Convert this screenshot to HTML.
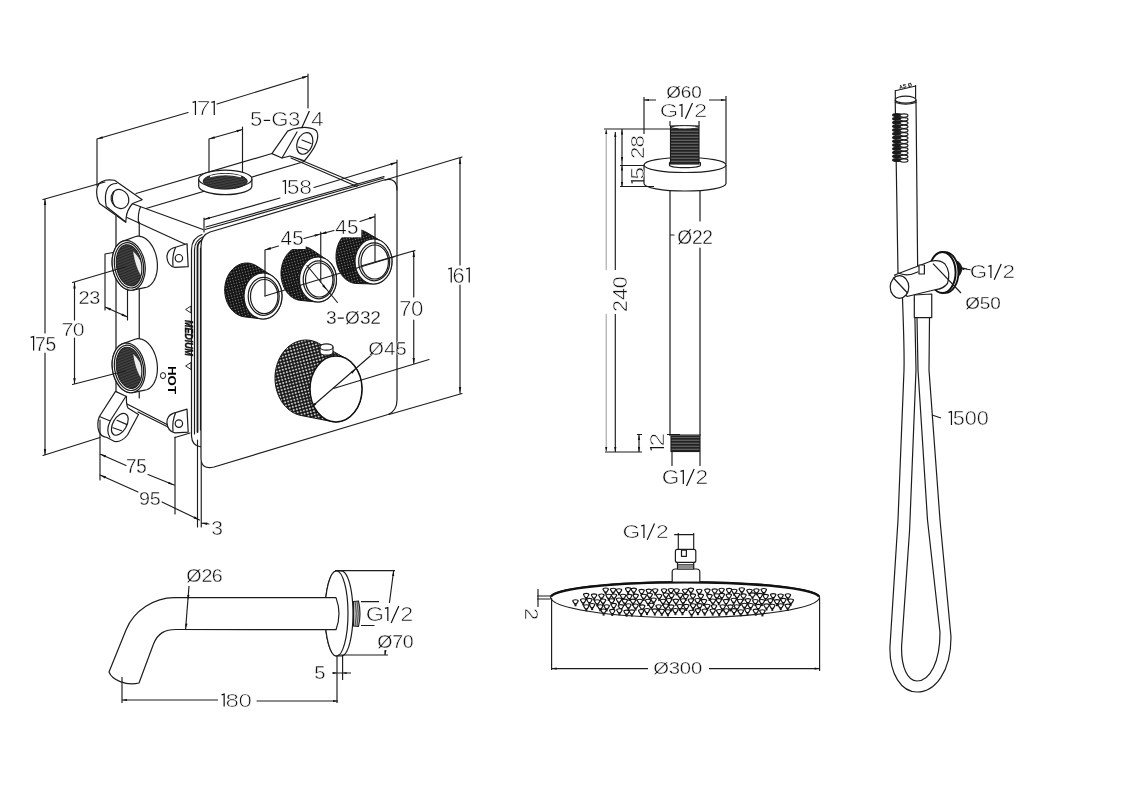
<!DOCTYPE html>
<html><head><meta charset="utf-8"><style>
html,body{margin:0;padding:0;background:#fff;overflow:hidden;}
svg{display:block;filter:grayscale(1);}
text{font-family:"Liberation Sans",sans-serif;}
</style></head><body>
<svg width="1131" height="800" viewBox="0 0 1131 800">
<defs>
<pattern id="knurl" width="3.2" height="3.2" patternUnits="userSpaceOnUse" patternTransform="rotate(-15)">
<rect width="3.2" height="3.2" fill="#121212"/><circle cx="1.6" cy="1.6" r="1.05" fill="#c4c4c4"/>
</pattern>
<pattern id="knurl2" width="2.8" height="2.8" patternUnits="userSpaceOnUse" patternTransform="rotate(-15)">
<rect width="2.8" height="2.8" fill="#111"/><circle cx="1.4" cy="1.4" r="0.65" fill="#8c8c8c"/>
</pattern>
<pattern id="thread" width="4" height="2.6" patternUnits="userSpaceOnUse" patternTransform="rotate(-12)">
<rect width="4" height="2.6" fill="#262626"/><rect y="1.5" width="4" height="0.6" fill="#6a6a6a"/>
</pattern>
<pattern id="hthread" width="4" height="3" patternUnits="userSpaceOnUse">
<rect width="4" height="3" fill="#222"/><rect y="1.8" width="4" height="0.8" fill="#858585"/>
</pattern>
</defs>
<rect width="1131" height="800" fill="#fff"/>

<g fill="none" stroke="#1c1c1c" stroke-width="1.2" stroke-linejoin="round" stroke-linecap="round">
<path d="M116,216 L116,420 M139.25,222 L139.25,398"/>
<path d="M136,193.5 L272,153.5 M146,208.5 L304.5,161.5"/>
<path d="M132.5,203.8 L203,229.5 M127,217.5 L187,245 M290,155.5 L358,184 M291,158 L357,186.5"/>
<path d="M127,404 L170,426 M138,412 L169,427.5 M175,437.5 L190,433"/>
<path d="M191.5,436 L191.5,250 Q191.5,238 202,234.5 M194.5,434 L194.5,250 Q194.5,240 204,236.5 M200.5,430 L200.5,248"/>
<path stroke-width="1.8" d="M197.5,432 L197.5,248 Q197.5,241 205,238.5"/>
<path d="M191.5,436 Q192,446 201,447"/>
</g>
<path fill="#fff" stroke="#1c1c1c" stroke-width="1.2" stroke-linejoin="round" stroke-linecap="round" d="M210,232 L384,180 Q397,177 397,190 L397,400 Q397,411 388,414.5 L214,467 Q201,470 201,458 L201,246 Q201,235 210,232 Z"/>
<path fill="none" stroke="#1c1c1c" stroke-width="1.2" stroke-linejoin="round" stroke-linecap="round" d="M206,227 L384,176.5 M205,229.5 L384,178"/>
<g fill="#fff" stroke="#1c1c1c" stroke-width="1.2" stroke-linejoin="round" stroke-linecap="round">
<path d="M102.5,181.4 Q106,179 114.5,180.25 L142.25,199.75 L132.5,203.5 Q127,210 126.2,217.5 L125.75,222.25 L99.5,203.5 Q96,197 96.8,189 Q98,183 102.5,181.4 Z"/>
<path fill="none" d="M106.25,206.5 L125.75,222 M106.25,206.5 Q104,195 107.5,188.5 Q110,183.5 116.75,183.5 M140.5,206.8 Q137.6,214 138.5,223"/>
<ellipse cx="120" cy="199" rx="8.6" ry="9.8" transform="rotate(-30 120 199)"/>
<path fill="none" d="M114,191.5 Q110.5,199.5 114.5,206"/>
<path d="M115.5,391.4 L126.5,396.5 Q126,404 128,408 L138.5,414.5 L127.5,435 Q121.5,442.5 114.5,441.5 L107,437.5 Q100,436.5 98.5,430 Q96.8,423 99.4,416.5 Z"/>
<path fill="none" d="M126,396.3 L110.25,420.8 M99.4,416.5 L110.25,421 M110.25,420.8 Q105.5,431 110,437.5"/>
<ellipse cx="119.8" cy="424.3" rx="6.8" ry="12" transform="rotate(30 119.8 424.3)"/>
<path fill="none" d="M117,420.25 L126.5,424.4 M112.9,427.75 L121.5,430.75"/>
<path d="M271.9,153.6 L287.6,131.1 L293,129 C303,126.5 313,127 316.5,131 C319.5,136 317,146 304.5,160.75 L290,156 L282,158 Z"/>
<ellipse cx="304.8" cy="143.4" rx="7.6" ry="11.2" transform="rotate(20 304.8 143.4)"/>
<path fill="none" d="M282,158 L297,132 M302,140 L311,143.5 M298.5,147 L307.5,150"/>
<path d="M173,248 L187,243.7 L188.2,266.7 L175,267.4 Q167.5,266 166.9,257 Q167,250.5 173,248 Z"/>
<path fill="none" d="M175.5,247.5 Q172,256 173,265.5"/>
<circle cx="178.9" cy="258.2" r="3.7"/>
<path d="M173,413.4 L187,409.1 L188.2,432.1 L175,432.79999999999995 Q167.5,431.4 166.9,422.4 Q167,415.9 173,413.4 Z"/>
<path fill="none" d="M175.5,412.9 Q172,421.4 173,430.9"/>
<circle cx="178.9" cy="423.6" r="3.7"/>
</g>
<path fill="#fff" stroke="#1c1c1c" stroke-width="1.2" stroke-linejoin="round" stroke-linecap="round" d="M112.14,261.47 L112.18,260.19 L112.27,258.93 L112.40,257.69 L112.58,256.46 L112.80,255.26 L113.07,254.09 L113.38,252.95 L113.73,251.84 L114.12,250.77 L114.55,249.74 L115.02,248.76 L115.53,247.82 L116.07,246.92 L116.65,246.08 L117.26,245.29 L117.91,244.56 L118.58,243.88 L119.28,243.26 L120.01,242.70 L120.76,242.21 L121.53,241.78 L122.32,241.41 L123.13,241.11 L135.07,236.73 L135.90,236.49 L136.73,236.32 L137.58,236.22 L138.44,236.19 L139.30,236.24 L140.17,236.35 L141.04,236.54 L141.91,236.79 L142.77,237.11 L143.63,237.50 L144.48,237.96 L145.33,238.49 L146.16,239.07 L146.97,239.73 L147.77,240.44 L148.55,241.21 L149.31,242.04 L150.04,242.92 L150.75,243.86 L151.43,244.84 L152.09,245.88 L152.71,246.95 L153.30,248.07 L153.85,249.23 L154.37,250.42 L154.85,251.64 L155.30,252.89 L155.70,254.17 L156.06,255.46 L156.39,256.78 L156.66,258.11 L156.90,259.45 L157.09,260.80 L157.24,262.15 L157.34,263.50 L157.39,264.84 L157.40,266.18 L157.37,267.51 L157.29,268.82 L157.16,270.12 L156.99,271.39 L156.78,272.63 L156.52,273.85 L156.22,275.03 L155.87,276.18 L155.49,277.29 L155.06,278.36 L154.60,279.38 L154.09,280.35 L153.55,281.28 L152.98,282.15 L152.37,282.96 L151.73,283.72 L151.06,284.42 L150.37,285.06 L149.64,285.64 L148.90,286.14 L148.13,286.59 L147.34,286.96 L146.53,287.27 L145.70,287.51 L144.87,287.68 L132.61,290.09 L131.76,290.19 L130.91,290.22 L130.04,290.19 L129.18,290.08 L128.31,289.91 L127.44,289.67 L126.58,289.37 L125.72,288.99 L124.88,288.56 L124.04,288.06 L123.21,287.50 L122.40,286.88 L121.61,286.19 L120.83,285.46 L120.08,284.66 L119.35,283.82 L118.65,282.92 L117.97,281.98 L117.33,280.99 L116.71,279.95 L116.13,278.88 L115.58,277.77 L115.07,276.63 L114.60,275.46 L114.16,274.25 L113.77,273.03 L113.41,271.78 L113.10,270.52 L112.83,269.24 L112.60,267.95 L112.42,266.65 L112.28,265.35 L112.19,264.06 L112.14,262.76 Z"/>
<ellipse fill="#fff" stroke="#1c1c1c" stroke-width="1.2" stroke-linejoin="round" stroke-linecap="round" cx="128.7" cy="265.4" rx="16.3" ry="25" transform="rotate(-9 128.7 265.4)"/>
<ellipse fill="none" stroke="#1c1c1c" stroke-width="1.2" stroke-linejoin="round" stroke-linecap="round" cx="129.0" cy="265.4" rx="14.4" ry="22.8" transform="rotate(-9 128.7 265.4)"/>
<ellipse fill="url(#thread)" stroke="#1c1c1c" stroke-width="1" cx="129.1" cy="265.4" rx="12.6" ry="20.8" transform="rotate(-9 128.7 265.4)"/>
<clipPath id="pc0"><ellipse cx="129.1" cy="265.4" rx="11.9" ry="20.1" transform="rotate(-9 128.7 265.4)"/></clipPath>
<path clip-path="url(#pc0)" fill="#eeeeee" stroke="none" d="M133.2,251.39999999999998 Q145.7,263.4 140.7,275.4 Q134.7,264.4 133.2,251.39999999999998 Z"/>
<path fill="#fff" stroke="#1c1c1c" stroke-width="1.2" stroke-linejoin="round" stroke-linecap="round" d="M112.14,363.97 L112.18,362.69 L112.27,361.43 L112.40,360.19 L112.58,358.96 L112.80,357.76 L113.07,356.59 L113.38,355.45 L113.73,354.34 L114.12,353.27 L114.55,352.24 L115.02,351.26 L115.53,350.32 L116.07,349.42 L116.65,348.58 L117.26,347.79 L117.91,347.06 L118.58,346.38 L119.28,345.76 L120.01,345.20 L120.76,344.71 L121.53,344.28 L122.32,343.91 L123.13,343.61 L135.07,339.23 L135.90,338.99 L136.73,338.82 L137.58,338.72 L138.44,338.69 L139.30,338.74 L140.17,338.85 L141.04,339.04 L141.91,339.29 L142.77,339.61 L143.63,340.00 L144.48,340.46 L145.33,340.99 L146.16,341.57 L146.97,342.23 L147.77,342.94 L148.55,343.71 L149.31,344.54 L150.04,345.42 L150.75,346.36 L151.43,347.34 L152.09,348.38 L152.71,349.45 L153.30,350.57 L153.85,351.73 L154.37,352.92 L154.85,354.14 L155.30,355.39 L155.70,356.67 L156.06,357.96 L156.39,359.28 L156.66,360.61 L156.90,361.95 L157.09,363.30 L157.24,364.65 L157.34,366.00 L157.39,367.34 L157.40,368.68 L157.37,370.01 L157.29,371.32 L157.16,372.62 L156.99,373.89 L156.78,375.13 L156.52,376.35 L156.22,377.53 L155.87,378.68 L155.49,379.79 L155.06,380.86 L154.60,381.88 L154.09,382.85 L153.55,383.78 L152.98,384.65 L152.37,385.46 L151.73,386.22 L151.06,386.92 L150.37,387.56 L149.64,388.14 L148.90,388.64 L148.13,389.09 L147.34,389.46 L146.53,389.77 L145.70,390.01 L144.87,390.18 L132.61,392.59 L131.76,392.69 L130.91,392.72 L130.04,392.69 L129.18,392.58 L128.31,392.41 L127.44,392.17 L126.58,391.87 L125.72,391.49 L124.88,391.06 L124.04,390.56 L123.21,390.00 L122.40,389.38 L121.61,388.69 L120.83,387.96 L120.08,387.16 L119.35,386.32 L118.65,385.42 L117.97,384.48 L117.33,383.49 L116.71,382.45 L116.13,381.38 L115.58,380.27 L115.07,379.13 L114.60,377.96 L114.16,376.75 L113.77,375.53 L113.41,374.28 L113.10,373.02 L112.83,371.74 L112.60,370.45 L112.42,369.15 L112.28,367.85 L112.19,366.56 L112.14,365.26 Z"/>
<ellipse fill="#fff" stroke="#1c1c1c" stroke-width="1.2" stroke-linejoin="round" stroke-linecap="round" cx="128.7" cy="367.9" rx="16.3" ry="25" transform="rotate(-9 128.7 367.9)"/>
<ellipse fill="none" stroke="#1c1c1c" stroke-width="1.2" stroke-linejoin="round" stroke-linecap="round" cx="129.0" cy="367.9" rx="14.4" ry="22.8" transform="rotate(-9 128.7 367.9)"/>
<ellipse fill="url(#thread)" stroke="#1c1c1c" stroke-width="1" cx="129.1" cy="367.9" rx="12.6" ry="20.8" transform="rotate(-9 128.7 367.9)"/>
<clipPath id="pc102"><ellipse cx="129.1" cy="367.9" rx="11.9" ry="20.1" transform="rotate(-9 128.7 367.9)"/></clipPath>
<path clip-path="url(#pc102)" fill="#eeeeee" stroke="none" d="M133.2,353.9 Q145.7,365.9 140.7,377.9 Q134.7,366.9 133.2,353.9 Z"/>
<path fill="#fff" stroke="#1c1c1c" stroke-width="1.2" stroke-linejoin="round" stroke-linecap="round" d="M198.7,179 L198.7,186 A26.6,8.6 0 0 0 251.9,186 L251.9,179 Z"/>
<ellipse fill="#fff" stroke="#1c1c1c" stroke-width="1.2" stroke-linejoin="round" stroke-linecap="round" cx="225.3" cy="179" rx="26.6" ry="8.8"/>
<ellipse fill="url(#thread)" stroke="#1c1c1c" stroke-width="1" cx="225.2" cy="181.3" rx="22" ry="7.8"/>
<path fill="none" stroke="#fff" stroke-width="1.3" d="M210,176.5 Q225,172.5 241,176.5"/>
<path fill="url(#knurl2)" stroke="#111" stroke-width="1" d="M224.70,290.00 L224.73,288.59 L224.82,287.18 L224.97,285.78 L225.18,284.39 L225.45,283.01 L225.78,281.66 L226.16,280.32 L226.60,279.02 L227.10,277.74 L227.65,276.50 L228.25,275.29 L228.90,274.13 L229.60,273.01 L230.35,271.93 L231.14,270.91 L231.98,269.94 L232.85,269.02 L233.77,268.16 L234.72,267.36 L235.70,266.62 L236.71,265.94 L237.75,265.33 L238.82,264.79 L239.90,264.32 L241.01,263.92 L242.13,263.59 L243.26,263.33 L244.40,263.15 L245.55,263.04 L246.70,263.00 L247.85,263.04 L249.00,263.15 L250.14,263.33 L251.27,263.59 L252.39,263.92 L253.50,264.32 L254.58,264.79 L255.65,265.33 L256.69,265.94 L271.63,275.51 L272.50,276.08 L273.35,276.71 L274.17,277.39 L274.96,278.13 L275.71,278.91 L276.44,279.74 L277.12,280.61 L277.77,281.53 L278.37,282.48 L278.93,283.47 L279.45,284.50 L279.93,285.56 L280.36,286.65 L280.74,287.76 L281.07,288.89 L281.35,290.05 L281.58,291.22 L281.77,292.40 L281.90,293.60 L281.97,294.80 L282.00,296.00 L281.97,297.20 L281.90,298.40 L281.77,299.60 L281.58,300.78 L281.35,301.95 L281.07,303.11 L280.74,304.24 L280.36,305.35 L279.93,306.44 L279.45,307.50 L278.93,308.53 L278.37,309.52 L277.77,310.47 L277.12,311.39 L276.44,312.26 L275.71,313.09 L274.96,313.87 L274.17,314.61 L273.35,315.29 L272.50,315.92 L271.63,316.49 L270.73,317.01 L269.81,317.47 L268.87,317.87 L267.92,318.22 L266.95,318.50 L265.97,318.72 L264.99,318.87 L263.99,318.97 L263.00,319.00 L262.01,318.97 L261.01,318.87 L244.40,316.85 L243.26,316.67 L242.13,316.41 L241.01,316.08 L239.90,315.68 L238.82,315.21 L237.75,314.67 L236.71,314.06 L235.70,313.38 L234.72,312.64 L233.77,311.84 L232.85,310.98 L231.98,310.06 L231.14,309.09 L230.35,308.07 L229.60,306.99 L228.90,305.87 L228.25,304.71 L227.65,303.50 L227.10,302.26 L226.60,300.98 L226.16,299.68 L225.78,298.34 L225.45,296.99 L225.18,295.61 L224.97,294.22 L224.82,292.82 L224.73,291.41 Z"/>
<ellipse fill="#fff" stroke="#1c1c1c" stroke-width="1.2" stroke-linejoin="round" stroke-linecap="round" cx="263" cy="296" rx="19" ry="23"/>
<ellipse fill="none" stroke="#1c1c1c" stroke-width="1.2" stroke-linejoin="round" stroke-linecap="round" cx="263.7" cy="296.3" rx="15.5" ry="19"/>
<ellipse fill="none" stroke="#1c1c1c" stroke-width="1.2" stroke-linejoin="round" stroke-linecap="round" cx="264.2" cy="296.5" rx="13.7" ry="17"/>
<path fill="url(#knurl2)" stroke="#111" stroke-width="1" d="M281.00,273.50 L281.03,272.09 L281.12,270.68 L281.26,269.28 L281.46,267.89 L281.72,266.51 L282.03,265.16 L282.39,263.82 L282.82,262.52 L283.29,261.24 L283.81,260.00 L284.39,258.79 L285.01,257.63 L285.68,256.51 L286.39,255.43 L287.15,254.41 L287.95,253.44 L288.78,252.52 L289.66,251.66 L290.56,250.86 L291.50,250.12 L292.47,249.44 L293.46,248.83 L294.47,248.29 L295.51,247.82 L296.56,247.42 L297.63,247.09 L298.71,246.83 L299.80,246.65 L300.90,246.54 L302.00,246.50 L303.10,246.54 L304.20,246.65 L305.29,246.83 L306.37,247.09 L307.44,247.42 L308.49,247.82 L309.53,248.29 L310.54,248.83 L311.53,249.44 L327.25,260.01 L328.08,260.63 L328.87,261.30 L329.64,262.01 L330.38,262.78 L331.08,263.59 L331.75,264.44 L332.38,265.34 L332.97,266.27 L333.52,267.25 L334.02,268.25 L334.48,269.29 L334.90,270.35 L335.27,271.44 L335.59,272.55 L335.87,273.68 L336.10,274.82 L336.27,275.98 L336.40,277.15 L336.47,278.32 L336.50,279.50 L336.47,280.68 L336.40,281.85 L336.27,283.02 L336.10,284.18 L335.87,285.32 L335.59,286.45 L335.27,287.56 L334.90,288.65 L334.48,289.71 L334.02,290.75 L333.52,291.75 L332.97,292.73 L332.38,293.66 L331.75,294.56 L331.08,295.41 L330.38,296.22 L329.64,296.99 L328.87,297.70 L328.08,298.37 L327.25,298.99 L326.40,299.55 L325.52,300.05 L324.63,300.51 L323.72,300.90 L322.79,301.23 L321.85,301.51 L320.89,301.72 L319.93,301.88 L318.97,301.97 L318.00,302.00 L317.03,301.97 L300.90,300.46 L299.80,300.35 L298.71,300.17 L297.63,299.91 L296.56,299.58 L295.51,299.18 L294.47,298.71 L293.46,298.17 L292.47,297.56 L291.50,296.88 L290.56,296.14 L289.66,295.34 L288.78,294.48 L287.95,293.56 L287.15,292.59 L286.39,291.57 L285.68,290.49 L285.01,289.37 L284.39,288.21 L283.81,287.00 L283.29,285.76 L282.82,284.48 L282.39,283.18 L282.03,281.84 L281.72,280.49 L281.46,279.11 L281.26,277.72 L281.12,276.32 L281.03,274.91 Z"/>
<ellipse fill="#fff" stroke="#1c1c1c" stroke-width="1.2" stroke-linejoin="round" stroke-linecap="round" cx="318" cy="279.5" rx="18.5" ry="22.5"/>
<ellipse fill="none" stroke="#1c1c1c" stroke-width="1.2" stroke-linejoin="round" stroke-linecap="round" cx="318.7" cy="279.8" rx="15.5" ry="19"/>
<ellipse fill="none" stroke="#1c1c1c" stroke-width="1.2" stroke-linejoin="round" stroke-linecap="round" cx="319.2" cy="280.0" rx="13.7" ry="17"/>
<path fill="url(#knurl2)" stroke="#111" stroke-width="1" d="M336.00,256.50 L336.03,255.09 L336.12,253.68 L336.26,252.28 L336.46,250.89 L336.72,249.51 L337.03,248.16 L337.39,246.82 L337.82,245.52 L338.29,244.24 L338.81,243.00 L339.39,241.79 L340.01,240.63 L340.68,239.51 L341.39,238.43 L342.15,237.41 L342.95,236.44 L343.78,235.52 L344.66,234.66 L345.56,233.86 L346.50,233.12 L347.47,232.44 L348.46,231.83 L349.47,231.29 L350.51,230.82 L351.56,230.42 L352.63,230.09 L353.71,229.83 L354.80,229.65 L355.90,229.54 L357.00,229.50 L358.10,229.54 L359.20,229.65 L360.29,229.83 L361.37,230.09 L362.44,230.42 L363.49,230.82 L364.53,231.29 L365.54,231.83 L381.90,241.45 L382.75,242.01 L383.58,242.63 L384.37,243.30 L385.14,244.01 L385.88,244.78 L386.58,245.59 L387.25,246.44 L387.88,247.34 L388.47,248.27 L389.02,249.25 L389.52,250.25 L389.98,251.29 L390.40,252.35 L390.77,253.44 L391.09,254.55 L391.37,255.68 L391.60,256.82 L391.77,257.98 L391.90,259.15 L391.97,260.32 L392.00,261.50 L391.97,262.68 L391.90,263.85 L391.77,265.02 L391.60,266.18 L391.37,267.32 L391.09,268.45 L390.77,269.56 L390.40,270.65 L389.98,271.71 L389.52,272.75 L389.02,273.75 L388.47,274.73 L387.88,275.66 L387.25,276.56 L386.58,277.41 L385.88,278.22 L385.14,278.99 L384.37,279.70 L383.58,280.37 L382.75,280.99 L381.90,281.55 L381.02,282.05 L380.13,282.51 L379.22,282.90 L378.29,283.23 L377.35,283.51 L376.39,283.72 L375.43,283.88 L374.47,283.97 L373.50,284.00 L357.00,283.50 L355.90,283.46 L354.80,283.35 L353.71,283.17 L352.63,282.91 L351.56,282.58 L350.51,282.18 L349.47,281.71 L348.46,281.17 L347.47,280.56 L346.50,279.88 L345.56,279.14 L344.66,278.34 L343.78,277.48 L342.95,276.56 L342.15,275.59 L341.39,274.57 L340.68,273.49 L340.01,272.37 L339.39,271.21 L338.81,270.00 L338.29,268.76 L337.82,267.48 L337.39,266.18 L337.03,264.84 L336.72,263.49 L336.46,262.11 L336.26,260.72 L336.12,259.32 L336.03,257.91 Z"/>
<ellipse fill="#fff" stroke="#1c1c1c" stroke-width="1.2" stroke-linejoin="round" stroke-linecap="round" cx="373.5" cy="261.5" rx="18.5" ry="22.5"/>
<ellipse fill="none" stroke="#1c1c1c" stroke-width="1.2" stroke-linejoin="round" stroke-linecap="round" cx="374.2" cy="261.8" rx="15.5" ry="19"/>
<ellipse fill="none" stroke="#1c1c1c" stroke-width="1.2" stroke-linejoin="round" stroke-linecap="round" cx="374.7" cy="262.0" rx="13.7" ry="17"/>
<path fill="url(#knurl)" stroke="#111" stroke-width="1" d="M275.00,378.00 L275.04,376.01 L275.17,374.03 L275.38,372.06 L275.68,370.10 L276.06,368.16 L276.52,366.26 L277.06,364.38 L277.68,362.54 L278.38,360.75 L279.15,359.00 L280.00,357.30 L280.92,355.66 L281.91,354.09 L282.96,352.57 L284.08,351.13 L285.26,349.76 L286.49,348.47 L287.78,347.26 L289.12,346.13 L290.50,345.09 L291.93,344.14 L293.39,343.29 L294.89,342.52 L296.42,341.86 L297.98,341.29 L299.55,340.83 L301.15,340.47 L302.76,340.21 L304.38,340.05 L306.00,340.00 L307.62,340.05 L309.24,340.21 L310.85,340.47 L312.45,340.83 L314.02,341.29 L315.58,341.86 L317.11,342.52 L318.61,343.29 L346.58,358.85 L347.80,359.60 L349.00,360.42 L350.16,361.32 L351.28,362.30 L352.36,363.35 L353.40,364.48 L354.38,365.67 L355.32,366.92 L356.21,368.23 L357.03,369.60 L357.81,371.03 L358.52,372.50 L359.17,374.02 L359.75,375.58 L360.27,377.17 L360.73,378.80 L361.11,380.46 L361.43,382.14 L361.68,383.84 L361.86,385.55 L361.96,387.27 L362.00,389.00 L361.96,390.73 L361.86,392.45 L361.68,394.16 L361.43,395.86 L361.11,397.54 L360.73,399.20 L360.27,400.83 L359.75,402.42 L359.17,403.98 L358.52,405.50 L357.81,406.97 L357.03,408.40 L356.21,409.77 L355.32,411.08 L354.38,412.33 L353.40,413.52 L352.36,414.65 L351.28,415.70 L350.16,416.68 L349.00,417.58 L347.80,418.40 L346.58,419.15 L345.32,419.81 L344.03,420.38 L342.73,420.88 L341.41,421.28 L340.07,421.59 L338.72,421.82 L337.36,421.95 L336.00,422.00 L334.64,421.95 L333.28,421.82 L331.93,421.59 L301.15,415.53 L299.55,415.17 L297.98,414.71 L296.42,414.14 L294.89,413.48 L293.39,412.71 L291.93,411.86 L290.50,410.91 L289.12,409.87 L287.78,408.74 L286.49,407.53 L285.26,406.24 L284.08,404.87 L282.96,403.43 L281.91,401.91 L280.92,400.34 L280.00,398.70 L279.15,397.00 L278.38,395.25 L277.68,393.46 L277.06,391.62 L276.52,389.74 L276.06,387.84 L275.68,385.90 L275.38,383.94 L275.17,381.97 L275.04,379.99 Z"/>
<ellipse fill="#fff" stroke="#111" stroke-width="1.5" cx="336" cy="389" rx="26" ry="33"/>
<path fill="#fff" stroke="#1c1c1c" stroke-width="1.2" stroke-linejoin="round" stroke-linecap="round" d="M320,347 L320,352 A6.5,3.2 0 0 0 333,352 L333,347 Z"/>
<ellipse fill="#fff" stroke="#1c1c1c" stroke-width="1.2" stroke-linejoin="round" stroke-linecap="round" cx="326.5" cy="347" rx="6.5" ry="3.2"/>
<g fill="#111" stroke="none">
<path d="M185.6,309.5 L191,306 L191,313 Z" fill="none" stroke="#111" stroke-width="0.9"/>
<path d="M185.6,366 L191,362.5 L191,369.5 Z" fill="none" stroke="#111" stroke-width="0.9"/>
<text font-size="10" font-weight="bold" font-style="italic" transform="translate(184.8,320) rotate(90)" textLength="36" lengthAdjust="spacingAndGlyphs" style="stroke:#111;stroke-width:0.4px">MEDIUM</text>
</g>
<text font-size="11" font-weight="bold" transform="translate(167.5,366) rotate(90)" textLength="28" lengthAdjust="spacingAndGlyphs" style="stroke:none">HOT</text>
<ellipse cx="163" cy="375.6" rx="2.6" ry="3" fill="none" stroke="#111" stroke-width="1"/>
<rect x="333" y="215" width="28.3" height="22.3" fill="#fff"/>
<rect x="278" y="227" width="27.6" height="22" fill="#fff"/>
<g fill="none" stroke="#1c1c1c" stroke-width="1.15" stroke-linecap="round">
<path d="M97,139 L188,112.5 M217,104 L308,76 M97,139 L97,186 M308,74 L308,108"/>
<path d="M209,139 L242.5,129.5 M209,139 L209,172 M242.5,127 L242.5,172"/>
<path d="M204,219.5 L280,198 M314,187.5 L396.5,162.5 M204,218 L204,232 M397,160 L397,190"/>
<path d="M460,158 L460,265 M460,285 L460,393 M462,157 L385,180 M462,393.5 L389,414.5"/>
<path d="M413.75,251 L413.75,297 M413.75,320 L413.75,364 M361,266 L415,250.5 M333.5,388.5 L429,359.5"/>
<path d="M265,250 L278.5,246 M304,238.5 L320.5,234 M265,250 L265,296 M320.75,232 L320.75,282"/>
<path d="M320.5,234 L334,230.5 M360,221.5 L375,216.5 M375,214 L375,262.5 M265,296 L395,256.5"/>
<path d="M307,265.5 L337.5,302.5 M311,407.5 L372.5,354"/>
<path d="M45,199 L45,333 M45,353 L45,455 M43,199.5 L105,182 M43,455.5 L100,437.5"/>
<path d="M74.5,282.5 L74.5,320 M74.5,338 L74.5,384 M72.5,282.5 L125,267 M72.5,384.5 L125,371"/>
<path d="M105,254 L105,310 M105,254 L113,252.5 M127.5,289 L127.5,320 M105,307 L127.5,317"/>
<path d="M100,454 L126,465.5 M148,474.5 L174,485 M100,420 L100,480 M175,437 L175,514"/>
<path d="M100,475 L138,492 M162,502 L199.5,520"/>
<path d="M197.5,440 L197.5,527 M201.25,462 L201.25,527 M201.25,523 L209,524"/>
</g>
<path d="M97.00,139.00 L102.43,136.17 L103.10,138.47 Z" fill="#111"/>
<path d="M308.00,76.00 L302.62,78.91 L301.91,76.62 Z" fill="#111"/>
<path d="M209.00,139.00 L214.44,136.21 L215.10,138.52 Z" fill="#111"/>
<path d="M242.50,129.50 L237.06,132.29 L236.40,129.98 Z" fill="#111"/>
<path d="M204.00,219.50 L209.45,216.71 L210.10,219.02 Z" fill="#111"/>
<path d="M396.50,162.50 L391.11,165.39 L390.41,163.09 Z" fill="#111"/>
<path d="M460.00,158.00 L461.20,164.00 L458.80,164.00 Z" fill="#111"/>
<path d="M460.00,393.00 L458.80,387.00 L461.20,387.00 Z" fill="#111"/>
<path d="M413.75,251.00 L414.95,257.00 L412.55,257.00 Z" fill="#111"/>
<path d="M413.75,364.00 L412.55,358.00 L414.95,358.00 Z" fill="#111"/>
<path d="M265.00,250.00 L270.38,247.09 L271.09,249.38 Z" fill="#111"/>
<path d="M320.50,234.00 L315.03,236.74 L314.40,234.42 Z" fill="#111"/>
<path d="M320.50,234.00 L326.01,231.33 L326.61,233.66 Z" fill="#111"/>
<path d="M375.00,216.50 L369.69,219.54 L368.93,217.26 Z" fill="#111"/>
<path d="M326.75,290.00 L322.05,286.08 L323.92,284.58 Z" fill="#111"/>
<path d="M311.00,407.50 L314.72,402.64 L316.30,404.45 Z" fill="#111"/>
<path d="M356.00,369.00 L352.22,373.81 L350.66,371.99 Z" fill="#111"/>
<path d="M45.00,199.00 L46.20,205.00 L43.80,205.00 Z" fill="#111"/>
<path d="M45.00,455.00 L43.80,449.00 L46.20,449.00 Z" fill="#111"/>
<path d="M74.50,282.50 L75.70,288.50 L73.30,288.50 Z" fill="#111"/>
<path d="M74.50,384.00 L73.30,378.00 L75.70,378.00 Z" fill="#111"/>
<path d="M105.00,307.00 L110.97,308.34 L110.00,310.53 Z" fill="#111"/>
<path d="M127.50,317.00 L121.53,315.66 L122.50,313.47 Z" fill="#111"/>
<path d="M100.00,454.00 L105.97,455.33 L105.00,457.52 Z" fill="#111"/>
<path d="M174.00,485.00 L167.99,483.87 L168.89,481.64 Z" fill="#111"/>
<path d="M100.00,475.00 L105.97,476.35 L104.99,478.55 Z" fill="#111"/>
<path d="M199.50,520.00 L193.57,518.49 L194.61,516.32 Z" fill="#111"/>
<path d="M201.25,523.00 L207.35,522.58 L207.05,524.96 Z" fill="#111"/>
<g transform="translate(192.00,115.00)"><path d="M0.60,-12.60 L3.45,-13.40 L3.45,0" fill="none" stroke="#111" stroke-width="1.2" stroke-linejoin="miter"/><text font-size="20.00" transform="translate(4.47,0) scale(1.266,1)" fill="#111" style="stroke:#fff;stroke-width:0.71px">7</text><path d="M19.40,-12.60 L22.25,-13.40 L22.25,0" fill="none" stroke="#111" stroke-width="1.2" stroke-linejoin="miter"/></g>
<g transform="translate(251.00,126.00)"><text font-size="20.00" transform="translate(-0.89,0) scale(1.111,1)" fill="#111" style="stroke:#fff;stroke-width:0.55px">5</text><path d="M12.74,-5.60 L19.14,-5.60" stroke="#111" stroke-width="1.2"/><text font-size="20.00" transform="translate(20.22,0) scale(1.111,1)" fill="#111" style="stroke:#fff;stroke-width:0.55px">G</text><text font-size="20.00" transform="translate(36.88,0) scale(1.111,1)" fill="#111" style="stroke:#fff;stroke-width:0.55px">3</text><path d="M50.71,1.96 L58.39,-15.12" stroke="#111" stroke-width="1.2"/><text font-size="20.00" transform="translate(60.34,0) scale(1.111,1)" fill="#111" style="stroke:#fff;stroke-width:0.55px">4</text></g>
<g transform="translate(282.00,194.00)"><path d="M0.60,-12.60 L3.45,-13.40 L3.45,0" fill="none" stroke="#111" stroke-width="1.2" stroke-linejoin="miter"/><text font-size="20.00" transform="translate(4.82,0) scale(1.149,1)" fill="#111" style="stroke:#fff;stroke-width:0.60px">5</text><text font-size="20.00" transform="translate(17.16,0) scale(1.149,1)" fill="#111" style="stroke:#fff;stroke-width:0.60px">8</text></g>
<g transform="translate(447.50,282.50)"><path d="M0.60,-13.50 L3.75,-14.40 L3.75,0" fill="none" stroke="#111" stroke-width="1.2" stroke-linejoin="miter"/><text font-size="21.43" transform="translate(5.05,0) scale(1.024,1)" fill="#111" style="stroke:#fff;stroke-width:0.58px">6</text><path d="M18.60,-13.50 L21.75,-14.40 L21.75,0" fill="none" stroke="#111" stroke-width="1.2" stroke-linejoin="miter"/></g>
<g transform="translate(281.00,245.00)"><text font-size="20.00" transform="translate(-0.41,0) scale(1.031,1)" fill="#111" style="stroke:#fff;stroke-width:0.45px">4</text><text font-size="20.00" transform="translate(11.13,0) scale(1.031,1)" fill="#111" style="stroke:#fff;stroke-width:0.45px">5</text></g>
<g transform="translate(335.75,234.00)"><text font-size="20.00" transform="translate(-0.41,0) scale(1.031,1)" fill="#111" style="stroke:#fff;stroke-width:0.45px">4</text><text font-size="20.00" transform="translate(11.13,0) scale(1.031,1)" fill="#111" style="stroke:#fff;stroke-width:0.45px">5</text></g>
<g transform="translate(400.00,316.00)"><text font-size="21.43" transform="translate(-1.11,0) scale(1.041,1)" fill="#111" style="stroke:#fff;stroke-width:0.60px">7</text><text font-size="21.43" transform="translate(10.90,0) scale(1.041,1)" fill="#111" style="stroke:#fff;stroke-width:0.60px">0</text></g>
<g transform="translate(326.75,323.50)"><text font-size="18.75" transform="translate(-0.77,0) scale(1.022,1)" fill="#111" style="stroke:#fff;stroke-width:0.32px">3</text><path d="M10.92,-5.40 L17.07,-5.40" stroke="#111" stroke-width="1.2"/><text font-size="18.75" transform="translate(18.22,0) scale(1.022,1)" fill="#111" style="stroke:#fff;stroke-width:0.32px">Ø</text><text font-size="18.75" transform="translate(33.15,0) scale(1.022,1)" fill="#111" style="stroke:#fff;stroke-width:0.32px">3</text><text font-size="18.75" transform="translate(43.58,0) scale(1.022,1)" fill="#111" style="stroke:#fff;stroke-width:0.32px">2</text></g>
<g transform="translate(369.00,354.50)"><text font-size="18.75" transform="translate(-0.71,0) scale(1.077,1)" fill="#111" style="stroke:#fff;stroke-width:0.40px">Ø</text><text font-size="18.75" transform="translate(15.32,0) scale(1.077,1)" fill="#111" style="stroke:#fff;stroke-width:0.40px">4</text><text font-size="18.75" transform="translate(26.60,0) scale(1.077,1)" fill="#111" style="stroke:#fff;stroke-width:0.40px">5</text></g>
<g transform="translate(30.00,350.50)"><path d="M0.60,-13.05 L3.60,-13.90 L3.60,0" fill="none" stroke="#111" stroke-width="1.2" stroke-linejoin="miter"/><text font-size="20.71" transform="translate(4.98,0) scale(0.932,1)" fill="#111" style="stroke:#fff;stroke-width:0.37px">7</text><text font-size="20.71" transform="translate(15.55,0) scale(0.932,1)" fill="#111" style="stroke:#fff;stroke-width:0.37px">5</text></g>
<g transform="translate(62.50,336.00)"><text font-size="19.29" transform="translate(-1.07,0) scale(1.110,1)" fill="#111" style="stroke:#fff;stroke-width:0.49px">7</text><text font-size="19.29" transform="translate(10.37,0) scale(1.110,1)" fill="#111" style="stroke:#fff;stroke-width:0.49px">0</text></g>
<g transform="translate(79.50,304.00)"><text font-size="18.57" transform="translate(-1.00,0) scale(1.075,1)" fill="#111" style="stroke:#fff;stroke-width:0.38px">2</text><text font-size="18.57" transform="translate(9.72,0) scale(1.075,1)" fill="#111" style="stroke:#fff;stroke-width:0.38px">3</text></g>
<g transform="translate(127.00,473.00)"><text font-size="20.00" transform="translate(-0.94,0) scale(0.939,1)" fill="#111" style="stroke:#fff;stroke-width:0.32px">7</text><text font-size="20.00" transform="translate(9.33,0) scale(0.939,1)" fill="#111" style="stroke:#fff;stroke-width:0.32px">5</text></g>
<g transform="translate(140.00,505.00)"><text font-size="18.57" transform="translate(-0.89,0) scale(1.064,1)" fill="#111" style="stroke:#fff;stroke-width:0.36px">9</text><text font-size="18.57" transform="translate(9.83,0) scale(1.064,1)" fill="#111" style="stroke:#fff;stroke-width:0.36px">5</text></g>
<g transform="translate(212.00,535.00)"><text font-size="20.00" transform="translate(-0.84,0) scale(1.053,1)" fill="#111" style="stroke:#fff;stroke-width:0.48px">3</text></g>
<path fill="none" stroke="#1c1c1c" stroke-width="1.2" stroke-linejoin="round" stroke-linecap="round" d="M670,191 L670,435 M700,191 L700,221 M700,248 L700,435 M670,235 L674,235"/>
<path fill="#fff" stroke="#1c1c1c" stroke-width="1.2" stroke-linejoin="round" stroke-linecap="round" d="M644,165 L644,183.5 A41,7.5 0 0 0 726,183.5 L726,165 Z"/>
<ellipse fill="#fff" stroke="#1c1c1c" stroke-width="1.2" stroke-linejoin="round" stroke-linecap="round" cx="685" cy="165" rx="41" ry="7.5"/>
<path fill="#fff" stroke="#1c1c1c" stroke-width="1.2" stroke-linejoin="round" stroke-linecap="round" d="M669.5,162.5 L669.5,165.3 A15.45,2.4 0 0 0 700.4,165.3 L700.4,162.5 Z"/>
<rect x="670.5" y="126" width="28.5" height="38" fill="url(#hthread)" stroke="#1c1c1c" stroke-width="1.15"/>
<ellipse cx="684.75" cy="127.3" rx="13.8" ry="1.7" fill="#fff" stroke="#1c1c1c" stroke-width="1"/>
<rect x="671" y="436" width="29" height="15.5" fill="url(#hthread)" stroke="#1c1c1c" stroke-width="1.15"/>
<path fill="none" stroke="#1c1c1c" stroke-width="1.2" stroke-linejoin="round" stroke-linecap="round" d="M669.5,435 L700.5,435"/>
<path fill="none" stroke="#1c1c1c" stroke-width="1.15" d="M644,100 L656,100 M709,100 L726,100 M644,97 L644,134 M726,96 L726,164 M670,121 L670,126 M699,121 L699,126"/>
<path fill="none" stroke="#1c1c1c" stroke-width="1.15" d="M622,129.6 L622,187 M604,129 L670,129 M620,165.5 L644,165.5 M620,186.5 L654,186.5"/>
<path fill="none" stroke="#1c1c1c" stroke-width="1.15" d="M615.3,132 L615.3,270 M615.3,314 L615.3,452 M605,452 L642,452"/>
<path fill="none" stroke="#9a9a9a" stroke-width="1" d="M606.2,129 L606.2,270 M606.2,314 L606.2,452"/>
<path fill="none" stroke="#1c1c1c" stroke-width="1.15" d="M639,435 L639,452 M637,434.5 L642,434.5 M667,434.5 L680,434.5 M672,452 L672,466 M700,452 L700,466"/>
<path d="M644.00,100.00 L649.00,98.90 L649.00,101.10 Z" fill="#111"/>
<path d="M726.00,100.00 L721.00,101.10 L721.00,98.90 Z" fill="#111"/>
<path d="M622.00,129.60 L623.10,134.60 L620.90,134.60 Z" fill="#111"/>
<path d="M622.00,162.00 L620.90,157.00 L623.10,157.00 Z" fill="#111"/>
<path d="M622.00,165.50 L623.10,170.50 L620.90,170.50 Z" fill="#111"/>
<path d="M622.00,187.00 L620.90,182.00 L623.10,182.00 Z" fill="#111"/>
<path d="M615.30,132.00 L616.40,137.00 L614.20,137.00 Z" fill="#111"/>
<path d="M615.30,452.00 L614.20,447.00 L616.40,447.00 Z" fill="#111"/>
<path d="M606.20,129.00 L607.30,134.00 L605.10,134.00 Z" fill="#111"/>
<path d="M606.20,452.00 L605.10,447.00 L607.30,447.00 Z" fill="#111"/>
<path d="M639.00,435.00 L640.10,440.00 L637.90,440.00 Z" fill="#111"/>
<path d="M639.00,452.00 L637.90,447.00 L640.10,447.00 Z" fill="#111"/>
<g transform="translate(667.00,97.50)"><text font-size="17.36" transform="translate(-0.66,0) scale(1.091,1)" fill="#111" style="stroke:#fff;stroke-width:0.29px">Ø</text><text font-size="17.36" transform="translate(13.78,0) scale(1.091,1)" fill="#111" style="stroke:#fff;stroke-width:0.29px">6</text><text font-size="17.36" transform="translate(24.15,0) scale(1.091,1)" fill="#111" style="stroke:#fff;stroke-width:0.29px">0</text></g>
<g transform="translate(661.00,117.00)"><text font-size="18.57" transform="translate(-1.19,0) scale(1.284,1)" fill="#111" style="stroke:#fff;stroke-width:0.60px">G</text><path d="M18.41,-11.70 L20.96,-12.40 L20.96,0" fill="none" stroke="#111" stroke-width="1.2" stroke-linejoin="miter"/><path d="M24.40,1.82 L31.46,-14.04" stroke="#111" stroke-width="1.2"/><text font-size="18.57" transform="translate(32.96,0) scale(1.284,1)" fill="#111" style="stroke:#fff;stroke-width:0.60px">2</text></g>
<g transform="translate(644.00,158.00) rotate(-90)"><text font-size="18.57" transform="translate(-1.11,0) scale(1.197,1)" fill="#111" style="stroke:#fff;stroke-width:0.52px">2</text><text font-size="18.57" transform="translate(10.55,0) scale(1.197,1)" fill="#111" style="stroke:#fff;stroke-width:0.52px">8</text></g>
<g transform="translate(644.00,184.00) rotate(-90)"><path d="M0.60,-11.70 L3.15,-12.40 L3.15,0" fill="none" stroke="#111" stroke-width="1.2" stroke-linejoin="miter"/><text font-size="18.57" transform="translate(4.43,0) scale(1.210,1)" fill="#111" style="stroke:#fff;stroke-width:0.53px">5</text></g>
<g transform="translate(678.00,244.00)"><text font-size="19.44" transform="translate(-0.67,0) scale(0.985,1)" fill="#111" style="stroke:#fff;stroke-width:0.34px">Ø</text><text font-size="19.44" transform="translate(14.08,0) scale(0.985,1)" fill="#111" style="stroke:#fff;stroke-width:0.34px">2</text><text font-size="19.44" transform="translate(24.33,0) scale(0.985,1)" fill="#111" style="stroke:#fff;stroke-width:0.34px">2</text></g>
<g transform="translate(627.00,311.00) rotate(-90)"><text font-size="20.00" transform="translate(-1.07,0) scale(1.074,1)" fill="#111" style="stroke:#fff;stroke-width:0.51px">2</text><text font-size="20.00" transform="translate(10.88,0) scale(1.074,1)" fill="#111" style="stroke:#fff;stroke-width:0.51px">4</text><text font-size="20.00" transform="translate(22.83,0) scale(1.074,1)" fill="#111" style="stroke:#fff;stroke-width:0.51px">0</text></g>
<g transform="translate(664.00,451.00) rotate(-90)"><path d="M0.60,-12.60 L3.45,-13.40 L3.45,0" fill="none" stroke="#111" stroke-width="1.2" stroke-linejoin="miter"/><text font-size="20.00" transform="translate(4.50,0) scale(1.237,1)" fill="#111" style="stroke:#fff;stroke-width:0.69px">2</text></g>
<g transform="translate(663.00,484.00)"><text font-size="20.00" transform="translate(-1.14,0) scale(1.139,1)" fill="#111" style="stroke:#fff;stroke-width:0.59px">G</text><path d="M17.47,-12.60 L20.32,-13.40 L20.32,0" fill="none" stroke="#111" stroke-width="1.2" stroke-linejoin="miter"/><path d="M23.51,1.96 L31.19,-15.12" stroke="#111" stroke-width="1.2"/><text font-size="20.00" transform="translate(32.49,0) scale(1.139,1)" fill="#111" style="stroke:#fff;stroke-width:0.59px">2</text></g>
<path fill="none" stroke="#1c1c1c" stroke-width="1.2" stroke-linejoin="round" stroke-linecap="round" d="M895.2,100 L898,273 M916,100 L917.7,272"/>
<ellipse fill="#fff" stroke="#1c1c1c" stroke-width="1.2" stroke-linejoin="round" stroke-linecap="round" cx="905.6" cy="99.7" rx="10.4" ry="3.5"/>
<path fill="none" stroke="#1c1c1c" stroke-width="1.2" stroke-linejoin="round" stroke-linecap="round" d="M895.5,102.5 Q905.6,106 916,102.5"/>
<path fill="none" stroke="#1c1c1c" stroke-width="1.15" d="M895.3,90 L895.3,99 M915.6,85 L915.6,98 M895.3,90.8 L915.6,86"/>
<text transform="translate(899.5,89.2) rotate(-13)" font-size="5.5" font-weight="bold" fill="#111" style="stroke:none" textLength="13" lengthAdjust="spacingAndGlyphs">AS Ø</text>
<ellipse cx="897" cy="115.00" rx="5" ry="2.1" fill="#1a1a1a"/>
<ellipse cx="904" cy="115.60" rx="4" ry="1.7" fill="#fff" stroke="#1a1a1a" stroke-width="1.1"/>
<ellipse cx="897" cy="118.75" rx="5" ry="2.1" fill="#1a1a1a"/>
<ellipse cx="904" cy="119.35" rx="4" ry="1.7" fill="#fff" stroke="#1a1a1a" stroke-width="1.1"/>
<ellipse cx="897" cy="122.50" rx="5" ry="2.1" fill="#1a1a1a"/>
<ellipse cx="904" cy="123.10" rx="4" ry="1.7" fill="#fff" stroke="#1a1a1a" stroke-width="1.1"/>
<ellipse cx="897" cy="126.25" rx="5" ry="2.1" fill="#1a1a1a"/>
<ellipse cx="904" cy="126.85" rx="4" ry="1.7" fill="#fff" stroke="#1a1a1a" stroke-width="1.1"/>
<ellipse cx="897" cy="130.00" rx="5" ry="2.1" fill="#1a1a1a"/>
<ellipse cx="904" cy="130.60" rx="4" ry="1.7" fill="#fff" stroke="#1a1a1a" stroke-width="1.1"/>
<ellipse cx="897" cy="133.75" rx="5" ry="2.1" fill="#1a1a1a"/>
<ellipse cx="904" cy="134.35" rx="4" ry="1.7" fill="#fff" stroke="#1a1a1a" stroke-width="1.1"/>
<ellipse cx="897" cy="137.50" rx="5" ry="2.1" fill="#1a1a1a"/>
<ellipse cx="904" cy="138.10" rx="4" ry="1.7" fill="#fff" stroke="#1a1a1a" stroke-width="1.1"/>
<ellipse cx="897" cy="141.25" rx="5" ry="2.1" fill="#1a1a1a"/>
<ellipse cx="904" cy="141.85" rx="4" ry="1.7" fill="#fff" stroke="#1a1a1a" stroke-width="1.1"/>
<ellipse cx="897" cy="145.00" rx="5" ry="2.1" fill="#1a1a1a"/>
<ellipse cx="904" cy="145.60" rx="4" ry="1.7" fill="#fff" stroke="#1a1a1a" stroke-width="1.1"/>
<ellipse cx="897" cy="148.75" rx="5" ry="2.1" fill="#1a1a1a"/>
<ellipse cx="904" cy="149.35" rx="4" ry="1.7" fill="#fff" stroke="#1a1a1a" stroke-width="1.1"/>
<ellipse cx="897" cy="152.50" rx="5" ry="2.1" fill="#1a1a1a"/>
<ellipse cx="904" cy="153.10" rx="4" ry="1.7" fill="#fff" stroke="#1a1a1a" stroke-width="1.1"/>
<ellipse cx="897" cy="156.25" rx="5" ry="2.1" fill="#1a1a1a"/>
<ellipse cx="904" cy="156.85" rx="4" ry="1.7" fill="#fff" stroke="#1a1a1a" stroke-width="1.1"/>
<ellipse cx="897" cy="160.00" rx="5" ry="2.1" fill="#1a1a1a"/>
<ellipse cx="904" cy="160.60" rx="4" ry="1.7" fill="#fff" stroke="#1a1a1a" stroke-width="1.1"/>
<path fill="none" stroke="#1c1c1c" stroke-width="1.2" stroke-linejoin="round" stroke-linecap="round" d="M902.5,298 C903.5,330 904.5,350 904,370 L898,520 L890,646 C889,675 902,692 917,692 C935,692 951,672 951,637 L940,520 L929,370 L929.5,318"/>
<path fill="none" stroke="#1c1c1c" stroke-width="1.2" stroke-linejoin="round" stroke-linecap="round" d="M914.5,298 L916,370 L909.6,530 L901.6,646 C901,668 908,681 917,681 C930,681 940,662 940,632.5 L927.5,520 L918,370 L917,318"/>
<path fill="#fff" stroke="#1c1c1c" stroke-width="1.2" stroke-linejoin="round" stroke-linecap="round" d="M914.3,295 L914.3,317.6 L931.75,317.6 L931.75,294 Z"/>
<path fill="#1a1a1a" d="M955.5,260 Q961,262 962.5,268 Q962,275 956,279 Z"/>
<path fill="none" stroke="#1a1a1a" stroke-width="1" d="M961,267.5 L967,269"/>
<ellipse fill="#fff" stroke="#111" stroke-width="1.8" cx="945.2" cy="272.5" rx="13.2" ry="20.4"/>
<ellipse fill="#fff" stroke="#111" stroke-width="2" cx="942.4" cy="272.5" rx="13.2" ry="20.4"/>
<path fill="#fff" stroke="#1c1c1c" stroke-width="1.2" stroke-linejoin="round" stroke-linecap="round" d="M894.6,275 L930,261.5 Q939,259 945,264 Q951,272 947.5,283.5 Q943,289 936,289.5 L907,296.5 Z"/>
<rect fill="#fff" stroke="#1c1c1c" stroke-width="1.2" stroke-linejoin="round" stroke-linecap="round" x="919" y="265" width="5.4" height="9"/>
<path fill="none" stroke="#1c1c1c" stroke-width="1.2" stroke-linejoin="round" stroke-linecap="round" d="M898,273 Q907.5,277 917.7,272"/>
<ellipse fill="#fff" stroke="#1c1c1c" stroke-width="1.2" stroke-linejoin="round" stroke-linecap="round" cx="899.5" cy="287" rx="9.3" ry="11.3"/>
<path fill="none" stroke="#1c1c1c" stroke-width="1.2" stroke-linejoin="round" stroke-linecap="round" d="M893.5,278 L907.5,293"/>
<path fill="none" stroke="#1c1c1c" stroke-width="1.15" d="M933,263.6 L961,293 M965.5,269 L972,270"/>
<path d="M959.50,268.50 L964.61,268.12 L964.29,270.30 Z" fill="#111"/>
<g transform="translate(971.00,278.00)"><text font-size="18.57" transform="translate(-1.13,0) scale(1.214,1)" fill="#111" style="stroke:#fff;stroke-width:0.53px">G</text><path d="M17.37,-11.70 L19.92,-12.40 L19.92,0" fill="none" stroke="#111" stroke-width="1.2" stroke-linejoin="miter"/><path d="M23.18,1.82 L30.24,-14.04" stroke="#111" stroke-width="1.2"/><text font-size="18.57" transform="translate(31.61,0) scale(1.214,1)" fill="#111" style="stroke:#fff;stroke-width:0.53px">2</text></g>
<g transform="translate(966.00,308.50)"><text font-size="15.97" transform="translate(-0.66,0) scale(1.187,1)" fill="#111" style="stroke:#fff;stroke-width:0.26px">Ø</text><text font-size="15.97" transform="translate(13.87,0) scale(1.187,1)" fill="#111" style="stroke:#fff;stroke-width:0.26px">5</text><text font-size="15.97" transform="translate(24.14,0) scale(1.187,1)" fill="#111" style="stroke:#fff;stroke-width:0.26px">0</text></g>
<path fill="none" stroke="#1c1c1c" stroke-width="1.15" d="M932,415 L941,418"/>
<g transform="translate(948.00,425.00)"><path d="M0.60,-12.60 L3.45,-13.40 L3.45,0" fill="none" stroke="#111" stroke-width="1.2" stroke-linejoin="miter"/><text font-size="20.00" transform="translate(4.87,0) scale(1.086,1)" fill="#111" style="stroke:#fff;stroke-width:0.53px">5</text><text font-size="20.00" transform="translate(16.73,0) scale(1.086,1)" fill="#111" style="stroke:#fff;stroke-width:0.53px">0</text><text font-size="20.00" transform="translate(28.70,0) scale(1.086,1)" fill="#111" style="stroke:#fff;stroke-width:0.53px">0</text></g>
<path fill="#fff" stroke="#1c1c1c" stroke-width="1.2" stroke-linejoin="round" stroke-linecap="round" d="M325.00,613.50 L325.02,611.28 L325.06,609.06 L325.14,606.85 L325.25,604.66 L325.39,602.50 L325.56,600.37 L325.76,598.27 L325.99,596.21 L326.25,594.21 L326.54,592.25 L326.86,590.35 L327.20,588.52 L327.56,586.75 L327.95,585.06 L328.37,583.45 L328.80,581.92 L329.26,580.47 L329.74,579.12 L330.24,577.86 L330.75,576.69 L331.28,575.63 L331.82,574.67 L332.38,573.82 L332.95,573.08 L333.52,572.45 L334.11,571.93 L334.70,571.52 L335.30,571.23 L335.90,571.06 L336.50,571.00 L341.50,571.00 L342.10,571.06 L342.70,571.23 L343.30,571.52 L343.89,571.93 L344.48,572.45 L345.05,573.08 L345.62,573.82 L346.18,574.67 L346.72,575.63 L347.25,576.69 L347.76,577.86 L348.26,579.12 L348.74,580.47 L349.20,581.92 L349.63,583.45 L350.05,585.06 L350.44,586.75 L350.80,588.52 L351.14,590.35 L351.46,592.25 L351.75,594.21 L352.01,596.21 L352.24,598.27 L352.44,600.37 L352.61,602.50 L352.75,604.66 L352.86,606.85 L352.94,609.06 L352.98,611.28 L353.00,613.50 L352.98,615.72 L352.94,617.94 L352.86,620.15 L352.75,622.34 L352.61,624.50 L352.44,626.63 L352.24,628.73 L352.01,630.79 L351.75,632.79 L351.46,634.75 L351.14,636.65 L350.80,638.48 L350.44,640.25 L350.05,641.94 L349.63,643.55 L349.20,645.08 L348.74,646.53 L348.26,647.88 L347.76,649.14 L347.25,650.31 L346.72,651.37 L346.18,652.33 L345.62,653.18 L345.05,653.92 L344.48,654.55 L343.89,655.07 L343.30,655.48 L342.70,655.77 L342.10,655.94 L341.50,656.00 L336.50,656.00 L335.90,655.94 L335.30,655.77 L334.70,655.48 L334.11,655.07 L333.52,654.55 L332.95,653.92 L332.38,653.18 L331.82,652.33 L331.28,651.37 L330.75,650.31 L330.24,649.14 L329.74,647.88 L329.26,646.53 L328.80,645.08 L328.37,643.55 L327.95,641.94 L327.56,640.25 L327.20,638.48 L326.86,636.65 L326.54,634.75 L326.25,632.79 L325.99,630.79 L325.76,628.73 L325.56,626.63 L325.39,624.50 L325.25,622.34 L325.14,620.15 L325.06,617.94 L325.02,615.72 Z"/>
<ellipse fill="#fff" stroke="#1c1c1c" stroke-width="1.2" stroke-linejoin="round" stroke-linecap="round" cx="336.5" cy="613.5" rx="11.5" ry="42.5"/>
<path fill="#fff" stroke="#1c1c1c" stroke-width="1.2" stroke-linejoin="round" stroke-linecap="round" d="M336,597.6 L174,597.6 C155,597.6 134,610 126,630 L109,672 C112,680 126,686 139,683 L153.5,644 C158,633 165,629.5 176,629.5 L336,629.7 Q342,613.6 336,597.6 Z"/>
<path d="M353.5,601.5 L358.5,601 Q361.5,613.5 358.5,626.5 L353.5,626 Z" fill="#bbb" stroke="#1c1c1c" stroke-width="1.1"/>
<path d="M355.2,601.5 Q357.5,613.5 355.2,626 M357,601.2 Q359.6,613.5 357,626.3" fill="none" stroke="#333" stroke-width="0.8"/>
<path fill="none" stroke="#1c1c1c" stroke-width="1.15" d="M189,586 L185.6,629"/>
<path d="M188.00,600.00 L187.26,594.93 L189.45,595.09 Z" fill="#111"/>
<path d="M185.70,628.50 L185.36,623.39 L187.54,623.72 Z" fill="#111"/>
<g transform="translate(187.00,581.50)"><text font-size="18.75" transform="translate(-0.69,0) scale(1.051,1)" fill="#111" style="stroke:#fff;stroke-width:0.36px">Ø</text><text font-size="18.75" transform="translate(14.40,0) scale(1.051,1)" fill="#111" style="stroke:#fff;stroke-width:0.36px">2</text><text font-size="18.75" transform="translate(24.85,0) scale(1.051,1)" fill="#111" style="stroke:#fff;stroke-width:0.36px">6</text></g>
<path fill="none" stroke="#1c1c1c" stroke-width="1.15" d="M122,677 L122,703 M122,700 L218,700 M256.6,701 L338,701"/>
<path d="M122.00,700.00 L127.00,698.90 L127.00,701.10 Z" fill="#111"/>
<path d="M338.00,701.00 L333.00,702.10 L333.00,699.90 Z" fill="#111"/>
<g transform="translate(221.00,706.50)"><path d="M0.60,-11.70 L3.15,-12.40 L3.15,0" fill="none" stroke="#111" stroke-width="1.2" stroke-linejoin="miter"/><text font-size="18.57" transform="translate(4.40,0) scale(1.300,1)" fill="#111" style="stroke:#fff;stroke-width:0.61px">8</text><text font-size="18.57" transform="translate(17.45,0) scale(1.300,1)" fill="#111" style="stroke:#fff;stroke-width:0.61px">0</text></g>
<path fill="none" stroke="#1c1c1c" stroke-width="1.15" d="M361,601.6 L379,601.6 M361,625.5 L374.5,625.5 M335,570.6 L395,570.6 M338,655 L388,655 M393.6,571 L389.4,603 M385.3,651 L384.9,655"/>
<path d="M393.60,571.00 L394.25,576.08 L392.06,575.88 Z" fill="#111"/>
<path d="M385.00,655.00 L384.40,649.92 L386.59,650.13 Z" fill="#111"/>
<g transform="translate(367.00,621.00)"><text font-size="20.00" transform="translate(-1.17,0) scale(1.172,1)" fill="#111" style="stroke:#fff;stroke-width:0.62px">G</text><path d="M17.98,-12.60 L20.83,-13.40 L20.83,0" fill="none" stroke="#111" stroke-width="1.2" stroke-linejoin="miter"/><path d="M24.12,1.96 L31.80,-15.12" stroke="#111" stroke-width="1.2"/><text font-size="20.00" transform="translate(33.17,0) scale(1.172,1)" fill="#111" style="stroke:#fff;stroke-width:0.62px">2</text></g>
<g transform="translate(378.00,647.50)"><text font-size="18.75" transform="translate(-0.68,0) scale(1.042,1)" fill="#111" style="stroke:#fff;stroke-width:0.35px">Ø</text><text font-size="18.75" transform="translate(14.28,0) scale(1.042,1)" fill="#111" style="stroke:#fff;stroke-width:0.35px">7</text><text font-size="18.75" transform="translate(24.84,0) scale(1.042,1)" fill="#111" style="stroke:#fff;stroke-width:0.35px">0</text></g>
<path fill="none" stroke="#1c1c1c" stroke-width="1.15" d="M337,655 L337,703 M342.6,655 L342.6,680 M332,673 L351,673"/>
<path d="M337.00,673.00 L333.00,674.00 L333.00,672.00 Z" fill="#111"/>
<path d="M342.60,673.00 L346.60,672.00 L346.60,674.00 Z" fill="#111"/>
<g transform="translate(315.00,679.00)"><text font-size="18.57" transform="translate(-0.81,0) scale(1.088,1)" fill="#111" style="stroke:#fff;stroke-width:0.39px">5</text></g>
<path fill="#fff" stroke="#1c1c1c" stroke-width="1.2" stroke-linejoin="round" stroke-linecap="round" d="M550.5,597 A134.5,15.5 0 0 1 819.6,597 A134.5,20.5 0 0 1 550.5,597 Z"/>
<path fill="none" stroke="#111" stroke-width="2.4" d="M551,596.5 A134.5,15.5 0 0 1 819,596.5"/>
<g transform="translate(628.1,591.1)"><path fill="#fff" stroke="#111" stroke-width="1.15" d="M-2.7,-2.2 A2.7,1.3 0 1 1 2.7,-2.2 L1,0.6 L-1,0.6 Z"/><rect x="-1" y="0.4" width="2" height="2.7" fill="#1a1a1a"/></g>
<g transform="translate(741.8,591.3)"><path fill="#fff" stroke="#111" stroke-width="1.15" d="M-2.7,-2.2 A2.7,1.3 0 1 1 2.7,-2.2 L1,0.6 L-1,0.6 Z"/><rect x="-1" y="0.4" width="2" height="2.7" fill="#1a1a1a"/></g>
<g transform="translate(605.7,591.5)"><path fill="#fff" stroke="#111" stroke-width="1.15" d="M-2.7,-2.2 A2.7,1.3 0 1 1 2.7,-2.2 L1,0.6 L-1,0.6 Z"/><rect x="-1" y="0.4" width="2" height="2.7" fill="#1a1a1a"/></g>
<g transform="translate(633.8,591.6)"><path fill="#fff" stroke="#111" stroke-width="1.15" d="M-2.7,-2.2 A2.7,1.3 0 1 1 2.7,-2.2 L1,0.6 L-1,0.6 Z"/><rect x="-1" y="0.4" width="2" height="2.7" fill="#1a1a1a"/></g>
<g transform="translate(690.9,591.6)"><path fill="#fff" stroke="#111" stroke-width="1.15" d="M-2.7,-2.2 A2.7,1.3 0 1 1 2.7,-2.2 L1,0.6 L-1,0.6 Z"/><rect x="-1" y="0.4" width="2" height="2.7" fill="#1a1a1a"/></g>
<g transform="translate(613.1,591.8)"><path fill="#fff" stroke="#111" stroke-width="1.15" d="M-2.7,-2.2 A2.7,1.3 0 1 1 2.7,-2.2 L1,0.6 L-1,0.6 Z"/><rect x="-1" y="0.4" width="2" height="2.7" fill="#1a1a1a"/></g>
<g transform="translate(721.6,591.8)"><path fill="#fff" stroke="#111" stroke-width="1.15" d="M-2.7,-2.2 A2.7,1.3 0 1 1 2.7,-2.2 L1,0.6 L-1,0.6 Z"/><rect x="-1" y="0.4" width="2" height="2.7" fill="#1a1a1a"/></g>
<g transform="translate(729.1,591.9)"><path fill="#fff" stroke="#111" stroke-width="1.15" d="M-2.7,-2.2 A2.7,1.3 0 1 1 2.7,-2.2 L1,0.6 L-1,0.6 Z"/><rect x="-1" y="0.4" width="2" height="2.7" fill="#1a1a1a"/></g>
<g transform="translate(763.8,592.0)"><path fill="#fff" stroke="#111" stroke-width="1.15" d="M-2.7,-2.2 A2.7,1.3 0 1 1 2.7,-2.2 L1,0.6 L-1,0.6 Z"/><rect x="-1" y="0.4" width="2" height="2.7" fill="#1a1a1a"/></g>
<g transform="translate(671.0,592.0)"><path fill="#fff" stroke="#111" stroke-width="1.15" d="M-2.7,-2.2 A2.7,1.3 0 1 1 2.7,-2.2 L1,0.6 L-1,0.6 Z"/><rect x="-1" y="0.4" width="2" height="2.7" fill="#1a1a1a"/></g>
<g transform="translate(619.0,592.2)"><path fill="#fff" stroke="#111" stroke-width="1.15" d="M-2.7,-2.2 A2.7,1.3 0 1 1 2.7,-2.2 L1,0.6 L-1,0.6 Z"/><rect x="-1" y="0.4" width="2" height="2.7" fill="#1a1a1a"/></g>
<g transform="translate(756.4,592.2)"><path fill="#fff" stroke="#111" stroke-width="1.15" d="M-2.7,-2.2 A2.7,1.3 0 1 1 2.7,-2.2 L1,0.6 L-1,0.6 Z"/><rect x="-1" y="0.4" width="2" height="2.7" fill="#1a1a1a"/></g>
<g transform="translate(664.1,592.2)"><path fill="#fff" stroke="#111" stroke-width="1.15" d="M-2.7,-2.2 A2.7,1.3 0 1 1 2.7,-2.2 L1,0.6 L-1,0.6 Z"/><rect x="-1" y="0.4" width="2" height="2.7" fill="#1a1a1a"/></g>
<g transform="translate(655.2,592.3)"><path fill="#fff" stroke="#111" stroke-width="1.15" d="M-2.7,-2.2 A2.7,1.3 0 1 1 2.7,-2.2 L1,0.6 L-1,0.6 Z"/><rect x="-1" y="0.4" width="2" height="2.7" fill="#1a1a1a"/></g>
<g transform="translate(676.6,592.3)"><path fill="#fff" stroke="#111" stroke-width="1.15" d="M-2.7,-2.2 A2.7,1.3 0 1 1 2.7,-2.2 L1,0.6 L-1,0.6 Z"/><rect x="-1" y="0.4" width="2" height="2.7" fill="#1a1a1a"/></g>
<g transform="translate(714.7,592.4)"><path fill="#fff" stroke="#111" stroke-width="1.15" d="M-2.7,-2.2 A2.7,1.3 0 1 1 2.7,-2.2 L1,0.6 L-1,0.6 Z"/><rect x="-1" y="0.4" width="2" height="2.7" fill="#1a1a1a"/></g>
<g transform="translate(707.4,592.4)"><path fill="#fff" stroke="#111" stroke-width="1.15" d="M-2.7,-2.2 A2.7,1.3 0 1 1 2.7,-2.2 L1,0.6 L-1,0.6 Z"/><rect x="-1" y="0.4" width="2" height="2.7" fill="#1a1a1a"/></g>
<g transform="translate(685.1,592.5)"><path fill="#fff" stroke="#111" stroke-width="1.15" d="M-2.7,-2.2 A2.7,1.3 0 1 1 2.7,-2.2 L1,0.6 L-1,0.6 Z"/><rect x="-1" y="0.4" width="2" height="2.7" fill="#1a1a1a"/></g>
<g transform="translate(648.8,592.6)"><path fill="#fff" stroke="#111" stroke-width="1.15" d="M-2.7,-2.2 A2.7,1.3 0 1 1 2.7,-2.2 L1,0.6 L-1,0.6 Z"/><rect x="-1" y="0.4" width="2" height="2.7" fill="#1a1a1a"/></g>
<g transform="translate(699.2,592.7)"><path fill="#fff" stroke="#111" stroke-width="1.15" d="M-2.7,-2.2 A2.7,1.3 0 1 1 2.7,-2.2 L1,0.6 L-1,0.6 Z"/><rect x="-1" y="0.4" width="2" height="2.7" fill="#1a1a1a"/></g>
<g transform="translate(734.3,592.7)"><path fill="#fff" stroke="#111" stroke-width="1.15" d="M-2.7,-2.2 A2.7,1.3 0 1 1 2.7,-2.2 L1,0.6 L-1,0.6 Z"/><rect x="-1" y="0.4" width="2" height="2.7" fill="#1a1a1a"/></g>
<g transform="translate(749.5,592.8)"><path fill="#fff" stroke="#111" stroke-width="1.15" d="M-2.7,-2.2 A2.7,1.3 0 1 1 2.7,-2.2 L1,0.6 L-1,0.6 Z"/><rect x="-1" y="0.4" width="2" height="2.7" fill="#1a1a1a"/></g>
<g transform="translate(641.6,592.9)"><path fill="#fff" stroke="#111" stroke-width="1.15" d="M-2.7,-2.2 A2.7,1.3 0 1 1 2.7,-2.2 L1,0.6 L-1,0.6 Z"/><rect x="-1" y="0.4" width="2" height="2.7" fill="#1a1a1a"/></g>
<g transform="translate(752.5,596.4)"><path fill="#fff" stroke="#111" stroke-width="1.15" d="M-2.7,-2.2 A2.7,1.3 0 1 1 2.7,-2.2 L1,0.6 L-1,0.6 Z"/><rect x="-1" y="0.4" width="2" height="2.7" fill="#1a1a1a"/></g>
<g transform="translate(665.9,596.5)"><path fill="#fff" stroke="#111" stroke-width="1.15" d="M-2.7,-2.2 A2.7,1.3 0 1 1 2.7,-2.2 L1,0.6 L-1,0.6 Z"/><rect x="-1" y="0.4" width="2" height="2.7" fill="#1a1a1a"/></g>
<g transform="translate(737.0,596.7)"><path fill="#fff" stroke="#111" stroke-width="1.15" d="M-2.7,-2.2 A2.7,1.3 0 1 1 2.7,-2.2 L1,0.6 L-1,0.6 Z"/><rect x="-1" y="0.4" width="2" height="2.7" fill="#1a1a1a"/></g>
<g transform="translate(649.7,596.8)"><path fill="#fff" stroke="#111" stroke-width="1.15" d="M-2.7,-2.2 A2.7,1.3 0 1 1 2.7,-2.2 L1,0.6 L-1,0.6 Z"/><rect x="-1" y="0.4" width="2" height="2.7" fill="#1a1a1a"/></g>
<g transform="translate(680.2,596.8)"><path fill="#fff" stroke="#111" stroke-width="1.15" d="M-2.7,-2.2 A2.7,1.3 0 1 1 2.7,-2.2 L1,0.6 L-1,0.6 Z"/><rect x="-1" y="0.4" width="2" height="2.7" fill="#1a1a1a"/></g>
<g transform="translate(721.8,596.9)"><path fill="#fff" stroke="#111" stroke-width="1.15" d="M-2.7,-2.2 A2.7,1.3 0 1 1 2.7,-2.2 L1,0.6 L-1,0.6 Z"/><rect x="-1" y="0.4" width="2" height="2.7" fill="#1a1a1a"/></g>
<g transform="translate(759.9,596.9)"><path fill="#fff" stroke="#111" stroke-width="1.15" d="M-2.7,-2.2 A2.7,1.3 0 1 1 2.7,-2.2 L1,0.6 L-1,0.6 Z"/><rect x="-1" y="0.4" width="2" height="2.7" fill="#1a1a1a"/></g>
<g transform="translate(586.2,596.9)"><path fill="#fff" stroke="#111" stroke-width="1.15" d="M-2.7,-2.2 A2.7,1.3 0 1 1 2.7,-2.2 L1,0.6 L-1,0.6 Z"/><rect x="-1" y="0.4" width="2" height="2.7" fill="#1a1a1a"/></g>
<g transform="translate(671.5,597.0)"><path fill="#fff" stroke="#111" stroke-width="1.15" d="M-2.7,-2.2 A2.7,1.3 0 1 1 2.7,-2.2 L1,0.6 L-1,0.6 Z"/><rect x="-1" y="0.4" width="2" height="2.7" fill="#1a1a1a"/></g>
<g transform="translate(773.2,597.1)"><path fill="#fff" stroke="#111" stroke-width="1.15" d="M-2.7,-2.2 A2.7,1.3 0 1 1 2.7,-2.2 L1,0.6 L-1,0.6 Z"/><rect x="-1" y="0.4" width="2" height="2.7" fill="#1a1a1a"/></g>
<g transform="translate(716.8,597.2)"><path fill="#fff" stroke="#111" stroke-width="1.15" d="M-2.7,-2.2 A2.7,1.3 0 1 1 2.7,-2.2 L1,0.6 L-1,0.6 Z"/><rect x="-1" y="0.4" width="2" height="2.7" fill="#1a1a1a"/></g>
<g transform="translate(787.9,597.3)"><path fill="#fff" stroke="#111" stroke-width="1.15" d="M-2.7,-2.2 A2.7,1.3 0 1 1 2.7,-2.2 L1,0.6 L-1,0.6 Z"/><rect x="-1" y="0.4" width="2" height="2.7" fill="#1a1a1a"/></g>
<g transform="translate(594.1,597.4)"><path fill="#fff" stroke="#111" stroke-width="1.15" d="M-2.7,-2.2 A2.7,1.3 0 1 1 2.7,-2.2 L1,0.6 L-1,0.6 Z"/><rect x="-1" y="0.4" width="2" height="2.7" fill="#1a1a1a"/></g>
<g transform="translate(728.8,597.4)"><path fill="#fff" stroke="#111" stroke-width="1.15" d="M-2.7,-2.2 A2.7,1.3 0 1 1 2.7,-2.2 L1,0.6 L-1,0.6 Z"/><rect x="-1" y="0.4" width="2" height="2.7" fill="#1a1a1a"/></g>
<g transform="translate(743.5,597.4)"><path fill="#fff" stroke="#111" stroke-width="1.15" d="M-2.7,-2.2 A2.7,1.3 0 1 1 2.7,-2.2 L1,0.6 L-1,0.6 Z"/><rect x="-1" y="0.4" width="2" height="2.7" fill="#1a1a1a"/></g>
<g transform="translate(692.9,597.4)"><path fill="#fff" stroke="#111" stroke-width="1.15" d="M-2.7,-2.2 A2.7,1.3 0 1 1 2.7,-2.2 L1,0.6 L-1,0.6 Z"/><rect x="-1" y="0.4" width="2" height="2.7" fill="#1a1a1a"/></g>
<g transform="translate(780.6,597.5)"><path fill="#fff" stroke="#111" stroke-width="1.15" d="M-2.7,-2.2 A2.7,1.3 0 1 1 2.7,-2.2 L1,0.6 L-1,0.6 Z"/><rect x="-1" y="0.4" width="2" height="2.7" fill="#1a1a1a"/></g>
<g transform="translate(614.0,597.5)"><path fill="#fff" stroke="#111" stroke-width="1.15" d="M-2.7,-2.2 A2.7,1.3 0 1 1 2.7,-2.2 L1,0.6 L-1,0.6 Z"/><rect x="-1" y="0.4" width="2" height="2.7" fill="#1a1a1a"/></g>
<g transform="translate(601.4,597.5)"><path fill="#fff" stroke="#111" stroke-width="1.15" d="M-2.7,-2.2 A2.7,1.3 0 1 1 2.7,-2.2 L1,0.6 L-1,0.6 Z"/><rect x="-1" y="0.4" width="2" height="2.7" fill="#1a1a1a"/></g>
<g transform="translate(635.7,597.6)"><path fill="#fff" stroke="#111" stroke-width="1.15" d="M-2.7,-2.2 A2.7,1.3 0 1 1 2.7,-2.2 L1,0.6 L-1,0.6 Z"/><rect x="-1" y="0.4" width="2" height="2.7" fill="#1a1a1a"/></g>
<g transform="translate(700.8,597.6)"><path fill="#fff" stroke="#111" stroke-width="1.15" d="M-2.7,-2.2 A2.7,1.3 0 1 1 2.7,-2.2 L1,0.6 L-1,0.6 Z"/><rect x="-1" y="0.4" width="2" height="2.7" fill="#1a1a1a"/></g>
<g transform="translate(643.7,597.8)"><path fill="#fff" stroke="#111" stroke-width="1.15" d="M-2.7,-2.2 A2.7,1.3 0 1 1 2.7,-2.2 L1,0.6 L-1,0.6 Z"/><rect x="-1" y="0.4" width="2" height="2.7" fill="#1a1a1a"/></g>
<g transform="translate(659.1,597.8)"><path fill="#fff" stroke="#111" stroke-width="1.15" d="M-2.7,-2.2 A2.7,1.3 0 1 1 2.7,-2.2 L1,0.6 L-1,0.6 Z"/><rect x="-1" y="0.4" width="2" height="2.7" fill="#1a1a1a"/></g>
<g transform="translate(608.7,597.8)"><path fill="#fff" stroke="#111" stroke-width="1.15" d="M-2.7,-2.2 A2.7,1.3 0 1 1 2.7,-2.2 L1,0.6 L-1,0.6 Z"/><rect x="-1" y="0.4" width="2" height="2.7" fill="#1a1a1a"/></g>
<g transform="translate(623.1,597.8)"><path fill="#fff" stroke="#111" stroke-width="1.15" d="M-2.7,-2.2 A2.7,1.3 0 1 1 2.7,-2.2 L1,0.6 L-1,0.6 Z"/><rect x="-1" y="0.4" width="2" height="2.7" fill="#1a1a1a"/></g>
<g transform="translate(685.7,597.9)"><path fill="#fff" stroke="#111" stroke-width="1.15" d="M-2.7,-2.2 A2.7,1.3 0 1 1 2.7,-2.2 L1,0.6 L-1,0.6 Z"/><rect x="-1" y="0.4" width="2" height="2.7" fill="#1a1a1a"/></g>
<g transform="translate(709.5,597.9)"><path fill="#fff" stroke="#111" stroke-width="1.15" d="M-2.7,-2.2 A2.7,1.3 0 1 1 2.7,-2.2 L1,0.6 L-1,0.6 Z"/><rect x="-1" y="0.4" width="2" height="2.7" fill="#1a1a1a"/></g>
<g transform="translate(765.7,597.9)"><path fill="#fff" stroke="#111" stroke-width="1.15" d="M-2.7,-2.2 A2.7,1.3 0 1 1 2.7,-2.2 L1,0.6 L-1,0.6 Z"/><rect x="-1" y="0.4" width="2" height="2.7" fill="#1a1a1a"/></g>
<g transform="translate(629.3,597.9)"><path fill="#fff" stroke="#111" stroke-width="1.15" d="M-2.7,-2.2 A2.7,1.3 0 1 1 2.7,-2.2 L1,0.6 L-1,0.6 Z"/><rect x="-1" y="0.4" width="2" height="2.7" fill="#1a1a1a"/></g>
<g transform="translate(619.0,601.5)"><path fill="#fff" stroke="#111" stroke-width="1.15" d="M-2.7,-2.2 A2.7,1.3 0 1 1 2.7,-2.2 L1,0.6 L-1,0.6 Z"/><rect x="-1" y="0.4" width="2" height="2.7" fill="#1a1a1a"/></g>
<g transform="translate(653.6,601.5)"><path fill="#fff" stroke="#111" stroke-width="1.15" d="M-2.7,-2.2 A2.7,1.3 0 1 1 2.7,-2.2 L1,0.6 L-1,0.6 Z"/><rect x="-1" y="0.4" width="2" height="2.7" fill="#1a1a1a"/></g>
<g transform="translate(733.7,601.8)"><path fill="#fff" stroke="#111" stroke-width="1.15" d="M-2.7,-2.2 A2.7,1.3 0 1 1 2.7,-2.2 L1,0.6 L-1,0.6 Z"/><rect x="-1" y="0.4" width="2" height="2.7" fill="#1a1a1a"/></g>
<g transform="translate(783.4,601.9)"><path fill="#fff" stroke="#111" stroke-width="1.15" d="M-2.7,-2.2 A2.7,1.3 0 1 1 2.7,-2.2 L1,0.6 L-1,0.6 Z"/><rect x="-1" y="0.4" width="2" height="2.7" fill="#1a1a1a"/></g>
<g transform="translate(589.4,601.9)"><path fill="#fff" stroke="#111" stroke-width="1.15" d="M-2.7,-2.2 A2.7,1.3 0 1 1 2.7,-2.2 L1,0.6 L-1,0.6 Z"/><rect x="-1" y="0.4" width="2" height="2.7" fill="#1a1a1a"/></g>
<g transform="translate(669.0,602.0)"><path fill="#fff" stroke="#111" stroke-width="1.15" d="M-2.7,-2.2 A2.7,1.3 0 1 1 2.7,-2.2 L1,0.6 L-1,0.6 Z"/><rect x="-1" y="0.4" width="2" height="2.7" fill="#1a1a1a"/></g>
<g transform="translate(697.6,602.0)"><path fill="#fff" stroke="#111" stroke-width="1.15" d="M-2.7,-2.2 A2.7,1.3 0 1 1 2.7,-2.2 L1,0.6 L-1,0.6 Z"/><rect x="-1" y="0.4" width="2" height="2.7" fill="#1a1a1a"/></g>
<g transform="translate(718.8,602.1)"><path fill="#fff" stroke="#111" stroke-width="1.15" d="M-2.7,-2.2 A2.7,1.3 0 1 1 2.7,-2.2 L1,0.6 L-1,0.6 Z"/><rect x="-1" y="0.4" width="2" height="2.7" fill="#1a1a1a"/></g>
<g transform="translate(747.9,602.1)"><path fill="#fff" stroke="#111" stroke-width="1.15" d="M-2.7,-2.2 A2.7,1.3 0 1 1 2.7,-2.2 L1,0.6 L-1,0.6 Z"/><rect x="-1" y="0.4" width="2" height="2.7" fill="#1a1a1a"/></g>
<g transform="translate(770.3,602.1)"><path fill="#fff" stroke="#111" stroke-width="1.15" d="M-2.7,-2.2 A2.7,1.3 0 1 1 2.7,-2.2 L1,0.6 L-1,0.6 Z"/><rect x="-1" y="0.4" width="2" height="2.7" fill="#1a1a1a"/></g>
<g transform="translate(683.1,602.2)"><path fill="#fff" stroke="#111" stroke-width="1.15" d="M-2.7,-2.2 A2.7,1.3 0 1 1 2.7,-2.2 L1,0.6 L-1,0.6 Z"/><rect x="-1" y="0.4" width="2" height="2.7" fill="#1a1a1a"/></g>
<g transform="translate(690.9,602.2)"><path fill="#fff" stroke="#111" stroke-width="1.15" d="M-2.7,-2.2 A2.7,1.3 0 1 1 2.7,-2.2 L1,0.6 L-1,0.6 Z"/><rect x="-1" y="0.4" width="2" height="2.7" fill="#1a1a1a"/></g>
<g transform="translate(611.7,602.2)"><path fill="#fff" stroke="#111" stroke-width="1.15" d="M-2.7,-2.2 A2.7,1.3 0 1 1 2.7,-2.2 L1,0.6 L-1,0.6 Z"/><rect x="-1" y="0.4" width="2" height="2.7" fill="#1a1a1a"/></g>
<g transform="translate(583.2,602.3)"><path fill="#fff" stroke="#111" stroke-width="1.15" d="M-2.7,-2.2 A2.7,1.3 0 1 1 2.7,-2.2 L1,0.6 L-1,0.6 Z"/><rect x="-1" y="0.4" width="2" height="2.7" fill="#1a1a1a"/></g>
<g transform="translate(790.8,602.5)"><path fill="#fff" stroke="#111" stroke-width="1.15" d="M-2.7,-2.2 A2.7,1.3 0 1 1 2.7,-2.2 L1,0.6 L-1,0.6 Z"/><rect x="-1" y="0.4" width="2" height="2.7" fill="#1a1a1a"/></g>
<g transform="translate(603.1,602.5)"><path fill="#fff" stroke="#111" stroke-width="1.15" d="M-2.7,-2.2 A2.7,1.3 0 1 1 2.7,-2.2 L1,0.6 L-1,0.6 Z"/><rect x="-1" y="0.4" width="2" height="2.7" fill="#1a1a1a"/></g>
<g transform="translate(712.9,602.5)"><path fill="#fff" stroke="#111" stroke-width="1.15" d="M-2.7,-2.2 A2.7,1.3 0 1 1 2.7,-2.2 L1,0.6 L-1,0.6 Z"/><rect x="-1" y="0.4" width="2" height="2.7" fill="#1a1a1a"/></g>
<g transform="translate(675.9,602.6)"><path fill="#fff" stroke="#111" stroke-width="1.15" d="M-2.7,-2.2 A2.7,1.3 0 1 1 2.7,-2.2 L1,0.6 L-1,0.6 Z"/><rect x="-1" y="0.4" width="2" height="2.7" fill="#1a1a1a"/></g>
<g transform="translate(633.0,602.6)"><path fill="#fff" stroke="#111" stroke-width="1.15" d="M-2.7,-2.2 A2.7,1.3 0 1 1 2.7,-2.2 L1,0.6 L-1,0.6 Z"/><rect x="-1" y="0.4" width="2" height="2.7" fill="#1a1a1a"/></g>
<g transform="translate(624.8,602.6)"><path fill="#fff" stroke="#111" stroke-width="1.15" d="M-2.7,-2.2 A2.7,1.3 0 1 1 2.7,-2.2 L1,0.6 L-1,0.6 Z"/><rect x="-1" y="0.4" width="2" height="2.7" fill="#1a1a1a"/></g>
<g transform="translate(663.0,602.7)"><path fill="#fff" stroke="#111" stroke-width="1.15" d="M-2.7,-2.2 A2.7,1.3 0 1 1 2.7,-2.2 L1,0.6 L-1,0.6 Z"/><rect x="-1" y="0.4" width="2" height="2.7" fill="#1a1a1a"/></g>
<g transform="translate(639.9,602.7)"><path fill="#fff" stroke="#111" stroke-width="1.15" d="M-2.7,-2.2 A2.7,1.3 0 1 1 2.7,-2.2 L1,0.6 L-1,0.6 Z"/><rect x="-1" y="0.4" width="2" height="2.7" fill="#1a1a1a"/></g>
<g transform="translate(740.1,602.8)"><path fill="#fff" stroke="#111" stroke-width="1.15" d="M-2.7,-2.2 A2.7,1.3 0 1 1 2.7,-2.2 L1,0.6 L-1,0.6 Z"/><rect x="-1" y="0.4" width="2" height="2.7" fill="#1a1a1a"/></g>
<g transform="translate(648.1,602.8)"><path fill="#fff" stroke="#111" stroke-width="1.15" d="M-2.7,-2.2 A2.7,1.3 0 1 1 2.7,-2.2 L1,0.6 L-1,0.6 Z"/><rect x="-1" y="0.4" width="2" height="2.7" fill="#1a1a1a"/></g>
<g transform="translate(704.0,602.9)"><path fill="#fff" stroke="#111" stroke-width="1.15" d="M-2.7,-2.2 A2.7,1.3 0 1 1 2.7,-2.2 L1,0.6 L-1,0.6 Z"/><rect x="-1" y="0.4" width="2" height="2.7" fill="#1a1a1a"/></g>
<g transform="translate(726.1,602.9)"><path fill="#fff" stroke="#111" stroke-width="1.15" d="M-2.7,-2.2 A2.7,1.3 0 1 1 2.7,-2.2 L1,0.6 L-1,0.6 Z"/><rect x="-1" y="0.4" width="2" height="2.7" fill="#1a1a1a"/></g>
<g transform="translate(755.4,603.0)"><path fill="#fff" stroke="#111" stroke-width="1.15" d="M-2.7,-2.2 A2.7,1.3 0 1 1 2.7,-2.2 L1,0.6 L-1,0.6 Z"/><rect x="-1" y="0.4" width="2" height="2.7" fill="#1a1a1a"/></g>
<g transform="translate(761.9,603.0)"><path fill="#fff" stroke="#111" stroke-width="1.15" d="M-2.7,-2.2 A2.7,1.3 0 1 1 2.7,-2.2 L1,0.6 L-1,0.6 Z"/><rect x="-1" y="0.4" width="2" height="2.7" fill="#1a1a1a"/></g>
<g transform="translate(777.0,603.1)"><path fill="#fff" stroke="#111" stroke-width="1.15" d="M-2.7,-2.2 A2.7,1.3 0 1 1 2.7,-2.2 L1,0.6 L-1,0.6 Z"/><rect x="-1" y="0.4" width="2" height="2.7" fill="#1a1a1a"/></g>
<g transform="translate(575.5,603.2)"><path fill="#fff" stroke="#111" stroke-width="1.15" d="M-2.7,-2.2 A2.7,1.3 0 1 1 2.7,-2.2 L1,0.6 L-1,0.6 Z"/><rect x="-1" y="0.4" width="2" height="2.7" fill="#1a1a1a"/></g>
<g transform="translate(597.2,603.3)"><path fill="#fff" stroke="#111" stroke-width="1.15" d="M-2.7,-2.2 A2.7,1.3 0 1 1 2.7,-2.2 L1,0.6 L-1,0.6 Z"/><rect x="-1" y="0.4" width="2" height="2.7" fill="#1a1a1a"/></g>
<g transform="translate(651.3,606.7)"><path fill="#fff" stroke="#111" stroke-width="1.15" d="M-2.7,-2.2 A2.7,1.3 0 1 1 2.7,-2.2 L1,0.6 L-1,0.6 Z"/><rect x="-1" y="0.4" width="2" height="2.7" fill="#1a1a1a"/></g>
<g transform="translate(744.4,606.7)"><path fill="#fff" stroke="#111" stroke-width="1.15" d="M-2.7,-2.2 A2.7,1.3 0 1 1 2.7,-2.2 L1,0.6 L-1,0.6 Z"/><rect x="-1" y="0.4" width="2" height="2.7" fill="#1a1a1a"/></g>
<g transform="translate(613.7,606.9)"><path fill="#fff" stroke="#111" stroke-width="1.15" d="M-2.7,-2.2 A2.7,1.3 0 1 1 2.7,-2.2 L1,0.6 L-1,0.6 Z"/><rect x="-1" y="0.4" width="2" height="2.7" fill="#1a1a1a"/></g>
<g transform="translate(750.6,607.0)"><path fill="#fff" stroke="#111" stroke-width="1.15" d="M-2.7,-2.2 A2.7,1.3 0 1 1 2.7,-2.2 L1,0.6 L-1,0.6 Z"/><rect x="-1" y="0.4" width="2" height="2.7" fill="#1a1a1a"/></g>
<g transform="translate(592.1,607.0)"><path fill="#fff" stroke="#111" stroke-width="1.15" d="M-2.7,-2.2 A2.7,1.3 0 1 1 2.7,-2.2 L1,0.6 L-1,0.6 Z"/><rect x="-1" y="0.4" width="2" height="2.7" fill="#1a1a1a"/></g>
<g transform="translate(699.6,607.1)"><path fill="#fff" stroke="#111" stroke-width="1.15" d="M-2.7,-2.2 A2.7,1.3 0 1 1 2.7,-2.2 L1,0.6 L-1,0.6 Z"/><rect x="-1" y="0.4" width="2" height="2.7" fill="#1a1a1a"/></g>
<g transform="translate(780.7,607.2)"><path fill="#fff" stroke="#111" stroke-width="1.15" d="M-2.7,-2.2 A2.7,1.3 0 1 1 2.7,-2.2 L1,0.6 L-1,0.6 Z"/><rect x="-1" y="0.4" width="2" height="2.7" fill="#1a1a1a"/></g>
<g transform="translate(693.1,607.2)"><path fill="#fff" stroke="#111" stroke-width="1.15" d="M-2.7,-2.2 A2.7,1.3 0 1 1 2.7,-2.2 L1,0.6 L-1,0.6 Z"/><rect x="-1" y="0.4" width="2" height="2.7" fill="#1a1a1a"/></g>
<g transform="translate(628.4,607.3)"><path fill="#fff" stroke="#111" stroke-width="1.15" d="M-2.7,-2.2 A2.7,1.3 0 1 1 2.7,-2.2 L1,0.6 L-1,0.6 Z"/><rect x="-1" y="0.4" width="2" height="2.7" fill="#1a1a1a"/></g>
<g transform="translate(766.5,607.4)"><path fill="#fff" stroke="#111" stroke-width="1.15" d="M-2.7,-2.2 A2.7,1.3 0 1 1 2.7,-2.2 L1,0.6 L-1,0.6 Z"/><rect x="-1" y="0.4" width="2" height="2.7" fill="#1a1a1a"/></g>
<g transform="translate(635.6,607.5)"><path fill="#fff" stroke="#111" stroke-width="1.15" d="M-2.7,-2.2 A2.7,1.3 0 1 1 2.7,-2.2 L1,0.6 L-1,0.6 Z"/><rect x="-1" y="0.4" width="2" height="2.7" fill="#1a1a1a"/></g>
<g transform="translate(665.7,607.5)"><path fill="#fff" stroke="#111" stroke-width="1.15" d="M-2.7,-2.2 A2.7,1.3 0 1 1 2.7,-2.2 L1,0.6 L-1,0.6 Z"/><rect x="-1" y="0.4" width="2" height="2.7" fill="#1a1a1a"/></g>
<g transform="translate(787.7,607.6)"><path fill="#fff" stroke="#111" stroke-width="1.15" d="M-2.7,-2.2 A2.7,1.3 0 1 1 2.7,-2.2 L1,0.6 L-1,0.6 Z"/><rect x="-1" y="0.4" width="2" height="2.7" fill="#1a1a1a"/></g>
<g transform="translate(707.3,607.8)"><path fill="#fff" stroke="#111" stroke-width="1.15" d="M-2.7,-2.2 A2.7,1.3 0 1 1 2.7,-2.2 L1,0.6 L-1,0.6 Z"/><rect x="-1" y="0.4" width="2" height="2.7" fill="#1a1a1a"/></g>
<g transform="translate(772.3,607.8)"><path fill="#fff" stroke="#111" stroke-width="1.15" d="M-2.7,-2.2 A2.7,1.3 0 1 1 2.7,-2.2 L1,0.6 L-1,0.6 Z"/><rect x="-1" y="0.4" width="2" height="2.7" fill="#1a1a1a"/></g>
<g transform="translate(758.3,607.9)"><path fill="#fff" stroke="#111" stroke-width="1.15" d="M-2.7,-2.2 A2.7,1.3 0 1 1 2.7,-2.2 L1,0.6 L-1,0.6 Z"/><rect x="-1" y="0.4" width="2" height="2.7" fill="#1a1a1a"/></g>
<g transform="translate(686.3,607.9)"><path fill="#fff" stroke="#111" stroke-width="1.15" d="M-2.7,-2.2 A2.7,1.3 0 1 1 2.7,-2.2 L1,0.6 L-1,0.6 Z"/><rect x="-1" y="0.4" width="2" height="2.7" fill="#1a1a1a"/></g>
<g transform="translate(679.9,608.0)"><path fill="#fff" stroke="#111" stroke-width="1.15" d="M-2.7,-2.2 A2.7,1.3 0 1 1 2.7,-2.2 L1,0.6 L-1,0.6 Z"/><rect x="-1" y="0.4" width="2" height="2.7" fill="#1a1a1a"/></g>
<g transform="translate(620.9,608.1)"><path fill="#fff" stroke="#111" stroke-width="1.15" d="M-2.7,-2.2 A2.7,1.3 0 1 1 2.7,-2.2 L1,0.6 L-1,0.6 Z"/><rect x="-1" y="0.4" width="2" height="2.7" fill="#1a1a1a"/></g>
<g transform="translate(606.7,608.2)"><path fill="#fff" stroke="#111" stroke-width="1.15" d="M-2.7,-2.2 A2.7,1.3 0 1 1 2.7,-2.2 L1,0.6 L-1,0.6 Z"/><rect x="-1" y="0.4" width="2" height="2.7" fill="#1a1a1a"/></g>
<g transform="translate(586.3,608.2)"><path fill="#fff" stroke="#111" stroke-width="1.15" d="M-2.7,-2.2 A2.7,1.3 0 1 1 2.7,-2.2 L1,0.6 L-1,0.6 Z"/><rect x="-1" y="0.4" width="2" height="2.7" fill="#1a1a1a"/></g>
<g transform="translate(600.2,608.2)"><path fill="#fff" stroke="#111" stroke-width="1.15" d="M-2.7,-2.2 A2.7,1.3 0 1 1 2.7,-2.2 L1,0.6 L-1,0.6 Z"/><rect x="-1" y="0.4" width="2" height="2.7" fill="#1a1a1a"/></g>
<g transform="translate(714.0,608.2)"><path fill="#fff" stroke="#111" stroke-width="1.15" d="M-2.7,-2.2 A2.7,1.3 0 1 1 2.7,-2.2 L1,0.6 L-1,0.6 Z"/><rect x="-1" y="0.4" width="2" height="2.7" fill="#1a1a1a"/></g>
<g transform="translate(658.6,608.3)"><path fill="#fff" stroke="#111" stroke-width="1.15" d="M-2.7,-2.2 A2.7,1.3 0 1 1 2.7,-2.2 L1,0.6 L-1,0.6 Z"/><rect x="-1" y="0.4" width="2" height="2.7" fill="#1a1a1a"/></g>
<g transform="translate(736.8,608.3)"><path fill="#fff" stroke="#111" stroke-width="1.15" d="M-2.7,-2.2 A2.7,1.3 0 1 1 2.7,-2.2 L1,0.6 L-1,0.6 Z"/><rect x="-1" y="0.4" width="2" height="2.7" fill="#1a1a1a"/></g>
<g transform="translate(722.7,608.3)"><path fill="#fff" stroke="#111" stroke-width="1.15" d="M-2.7,-2.2 A2.7,1.3 0 1 1 2.7,-2.2 L1,0.6 L-1,0.6 Z"/><rect x="-1" y="0.4" width="2" height="2.7" fill="#1a1a1a"/></g>
<g transform="translate(642.2,608.4)"><path fill="#fff" stroke="#111" stroke-width="1.15" d="M-2.7,-2.2 A2.7,1.3 0 1 1 2.7,-2.2 L1,0.6 L-1,0.6 Z"/><rect x="-1" y="0.4" width="2" height="2.7" fill="#1a1a1a"/></g>
<g transform="translate(730.4,608.4)"><path fill="#fff" stroke="#111" stroke-width="1.15" d="M-2.7,-2.2 A2.7,1.3 0 1 1 2.7,-2.2 L1,0.6 L-1,0.6 Z"/><rect x="-1" y="0.4" width="2" height="2.7" fill="#1a1a1a"/></g>
<g transform="translate(671.2,608.4)"><path fill="#fff" stroke="#111" stroke-width="1.15" d="M-2.7,-2.2 A2.7,1.3 0 1 1 2.7,-2.2 L1,0.6 L-1,0.6 Z"/><rect x="-1" y="0.4" width="2" height="2.7" fill="#1a1a1a"/></g>
<g transform="translate(647.0,612.0)"><path fill="#fff" stroke="#111" stroke-width="1.15" d="M-2.7,-2.2 A2.7,1.3 0 1 1 2.7,-2.2 L1,0.6 L-1,0.6 Z"/><rect x="-1" y="0.4" width="2" height="2.7" fill="#1a1a1a"/></g>
<g transform="translate(675.4,612.0)"><path fill="#fff" stroke="#111" stroke-width="1.15" d="M-2.7,-2.2 A2.7,1.3 0 1 1 2.7,-2.2 L1,0.6 L-1,0.6 Z"/><rect x="-1" y="0.4" width="2" height="2.7" fill="#1a1a1a"/></g>
<g transform="translate(747.5,612.0)"><path fill="#fff" stroke="#111" stroke-width="1.15" d="M-2.7,-2.2 A2.7,1.3 0 1 1 2.7,-2.2 L1,0.6 L-1,0.6 Z"/><rect x="-1" y="0.4" width="2" height="2.7" fill="#1a1a1a"/></g>
<g transform="translate(697.9,612.1)"><path fill="#fff" stroke="#111" stroke-width="1.15" d="M-2.7,-2.2 A2.7,1.3 0 1 1 2.7,-2.2 L1,0.6 L-1,0.6 Z"/><rect x="-1" y="0.4" width="2" height="2.7" fill="#1a1a1a"/></g>
<g transform="translate(734.0,612.1)"><path fill="#fff" stroke="#111" stroke-width="1.15" d="M-2.7,-2.2 A2.7,1.3 0 1 1 2.7,-2.2 L1,0.6 L-1,0.6 Z"/><rect x="-1" y="0.4" width="2" height="2.7" fill="#1a1a1a"/></g>
<g transform="translate(682.5,612.1)"><path fill="#fff" stroke="#111" stroke-width="1.15" d="M-2.7,-2.2 A2.7,1.3 0 1 1 2.7,-2.2 L1,0.6 L-1,0.6 Z"/><rect x="-1" y="0.4" width="2" height="2.7" fill="#1a1a1a"/></g>
<g transform="translate(619.4,612.2)"><path fill="#fff" stroke="#111" stroke-width="1.15" d="M-2.7,-2.2 A2.7,1.3 0 1 1 2.7,-2.2 L1,0.6 L-1,0.6 Z"/><rect x="-1" y="0.4" width="2" height="2.7" fill="#1a1a1a"/></g>
<g transform="translate(726.3,612.2)"><path fill="#fff" stroke="#111" stroke-width="1.15" d="M-2.7,-2.2 A2.7,1.3 0 1 1 2.7,-2.2 L1,0.6 L-1,0.6 Z"/><rect x="-1" y="0.4" width="2" height="2.7" fill="#1a1a1a"/></g>
<g transform="translate(654.8,612.4)"><path fill="#fff" stroke="#111" stroke-width="1.15" d="M-2.7,-2.2 A2.7,1.3 0 1 1 2.7,-2.2 L1,0.6 L-1,0.6 Z"/><rect x="-1" y="0.4" width="2" height="2.7" fill="#1a1a1a"/></g>
<g transform="translate(704.7,612.5)"><path fill="#fff" stroke="#111" stroke-width="1.15" d="M-2.7,-2.2 A2.7,1.3 0 1 1 2.7,-2.2 L1,0.6 L-1,0.6 Z"/><rect x="-1" y="0.4" width="2" height="2.7" fill="#1a1a1a"/></g>
<g transform="translate(712.7,612.5)"><path fill="#fff" stroke="#111" stroke-width="1.15" d="M-2.7,-2.2 A2.7,1.3 0 1 1 2.7,-2.2 L1,0.6 L-1,0.6 Z"/><rect x="-1" y="0.4" width="2" height="2.7" fill="#1a1a1a"/></g>
<g transform="translate(603.6,612.5)"><path fill="#fff" stroke="#111" stroke-width="1.15" d="M-2.7,-2.2 A2.7,1.3 0 1 1 2.7,-2.2 L1,0.6 L-1,0.6 Z"/><rect x="-1" y="0.4" width="2" height="2.7" fill="#1a1a1a"/></g>
<g transform="translate(755.8,612.6)"><path fill="#fff" stroke="#111" stroke-width="1.15" d="M-2.7,-2.2 A2.7,1.3 0 1 1 2.7,-2.2 L1,0.6 L-1,0.6 Z"/><rect x="-1" y="0.4" width="2" height="2.7" fill="#1a1a1a"/></g>
<g transform="translate(661.8,612.7)"><path fill="#fff" stroke="#111" stroke-width="1.15" d="M-2.7,-2.2 A2.7,1.3 0 1 1 2.7,-2.2 L1,0.6 L-1,0.6 Z"/><rect x="-1" y="0.4" width="2" height="2.7" fill="#1a1a1a"/></g>
<g transform="translate(612.3,612.9)"><path fill="#fff" stroke="#111" stroke-width="1.15" d="M-2.7,-2.2 A2.7,1.3 0 1 1 2.7,-2.2 L1,0.6 L-1,0.6 Z"/><rect x="-1" y="0.4" width="2" height="2.7" fill="#1a1a1a"/></g>
<g transform="translate(719.2,613.0)"><path fill="#fff" stroke="#111" stroke-width="1.15" d="M-2.7,-2.2 A2.7,1.3 0 1 1 2.7,-2.2 L1,0.6 L-1,0.6 Z"/><rect x="-1" y="0.4" width="2" height="2.7" fill="#1a1a1a"/></g>
<g transform="translate(641.2,613.0)"><path fill="#fff" stroke="#111" stroke-width="1.15" d="M-2.7,-2.2 A2.7,1.3 0 1 1 2.7,-2.2 L1,0.6 L-1,0.6 Z"/><rect x="-1" y="0.4" width="2" height="2.7" fill="#1a1a1a"/></g>
<g transform="translate(740.8,613.2)"><path fill="#fff" stroke="#111" stroke-width="1.15" d="M-2.7,-2.2 A2.7,1.3 0 1 1 2.7,-2.2 L1,0.6 L-1,0.6 Z"/><rect x="-1" y="0.4" width="2" height="2.7" fill="#1a1a1a"/></g>
<g transform="translate(667.9,613.3)"><path fill="#fff" stroke="#111" stroke-width="1.15" d="M-2.7,-2.2 A2.7,1.3 0 1 1 2.7,-2.2 L1,0.6 L-1,0.6 Z"/><rect x="-1" y="0.4" width="2" height="2.7" fill="#1a1a1a"/></g>
<g transform="translate(762.4,613.3)"><path fill="#fff" stroke="#111" stroke-width="1.15" d="M-2.7,-2.2 A2.7,1.3 0 1 1 2.7,-2.2 L1,0.6 L-1,0.6 Z"/><rect x="-1" y="0.4" width="2" height="2.7" fill="#1a1a1a"/></g>
<g transform="translate(631.9,613.4)"><path fill="#fff" stroke="#111" stroke-width="1.15" d="M-2.7,-2.2 A2.7,1.3 0 1 1 2.7,-2.2 L1,0.6 L-1,0.6 Z"/><rect x="-1" y="0.4" width="2" height="2.7" fill="#1a1a1a"/></g>
<g transform="translate(626.6,613.6)"><path fill="#fff" stroke="#111" stroke-width="1.15" d="M-2.7,-2.2 A2.7,1.3 0 1 1 2.7,-2.2 L1,0.6 L-1,0.6 Z"/><rect x="-1" y="0.4" width="2" height="2.7" fill="#1a1a1a"/></g>
<g transform="translate(691.6,613.7)"><path fill="#fff" stroke="#111" stroke-width="1.15" d="M-2.7,-2.2 A2.7,1.3 0 1 1 2.7,-2.2 L1,0.6 L-1,0.6 Z"/><rect x="-1" y="0.4" width="2" height="2.7" fill="#1a1a1a"/></g>
<path fill="#fff" stroke="#1c1c1c" stroke-width="1.2" stroke-linejoin="round" stroke-linecap="round" d="M672.2,582 L672.2,572 Q672.2,569 675.5,569 L696.5,569 Q699.8,569 699.8,572 L699.8,582 Z"/>
<rect fill="#fff" stroke="#1c1c1c" stroke-width="1.2" stroke-linejoin="round" stroke-linecap="round" x="677.5" y="562.4" width="16.2" height="6.6"/>
<path fill="none" stroke="#1c1c1c" stroke-width="1.2" stroke-linejoin="round" stroke-linecap="round" d="M677.5,564.8 L693.7,564.8 M677.5,567 L693.7,567"/>
<rect fill="#fff" stroke="#1c1c1c" stroke-width="1.2" stroke-linejoin="round" stroke-linecap="round" x="675.4" y="549.4" width="20.4" height="13" rx="2"/>
<rect fill="none" stroke="#1c1c1c" stroke-width="1.2" stroke-linejoin="round" stroke-linecap="round" x="681.5" y="550.2" width="4.9" height="6.1"/>
<path fill="none" stroke="#1c1c1c" stroke-width="1.15" d="M678.3,533 L678.3,549.4 M693.7,533 L693.7,549.4 M674.2,534.6 L693.7,534.6"/>
<g transform="translate(623.60,538.00)"><text font-size="19.14" transform="translate(-1.15,0) scale(1.200,1)" fill="#111" style="stroke:#fff;stroke-width:0.57px">G</text><path d="M17.67,-12.06 L20.34,-12.80 L20.34,0" fill="none" stroke="#111" stroke-width="1.2" stroke-linejoin="miter"/><path d="M23.62,1.88 L30.92,-14.47" stroke="#111" stroke-width="1.2"/><text font-size="19.14" transform="translate(32.30,0) scale(1.200,1)" fill="#111" style="stroke:#fff;stroke-width:0.57px">2</text></g>
<path fill="none" stroke="#1c1c1c" stroke-width="1.15" d="M538,589 L538,607 M537,596 L550.5,596 M537,599 L550.5,599"/>
<g transform="translate(524.60,609.00) rotate(90)"><text font-size="19.14" transform="translate(-1.10,0) scale(1.148,1)" fill="#111" style="stroke:#fff;stroke-width:0.52px">2</text></g>
<path fill="none" stroke="#1c1c1c" stroke-width="1.15" d="M551.6,598 L551.6,670 M551.6,668.6 L648,668.6 M709,668.6 L819.6,668.6 M819.6,598 L819.6,671"/>
<path d="M551.60,668.60 L556.60,667.50 L556.60,669.70 Z" fill="#111"/>
<path d="M819.60,668.60 L814.60,669.70 L814.60,667.50 Z" fill="#111"/>
<g transform="translate(654.00,673.50)"><text font-size="17.36" transform="translate(-0.71,0) scale(1.167,1)" fill="#111" style="stroke:#fff;stroke-width:0.37px">Ø</text><text font-size="17.36" transform="translate(14.85,0) scale(1.167,1)" fill="#111" style="stroke:#fff;stroke-width:0.37px">3</text><text font-size="17.36" transform="translate(25.86,0) scale(1.167,1)" fill="#111" style="stroke:#fff;stroke-width:0.37px">0</text><text font-size="17.36" transform="translate(36.96,0) scale(1.167,1)" fill="#111" style="stroke:#fff;stroke-width:0.37px">0</text></g>
</svg></body></html>
